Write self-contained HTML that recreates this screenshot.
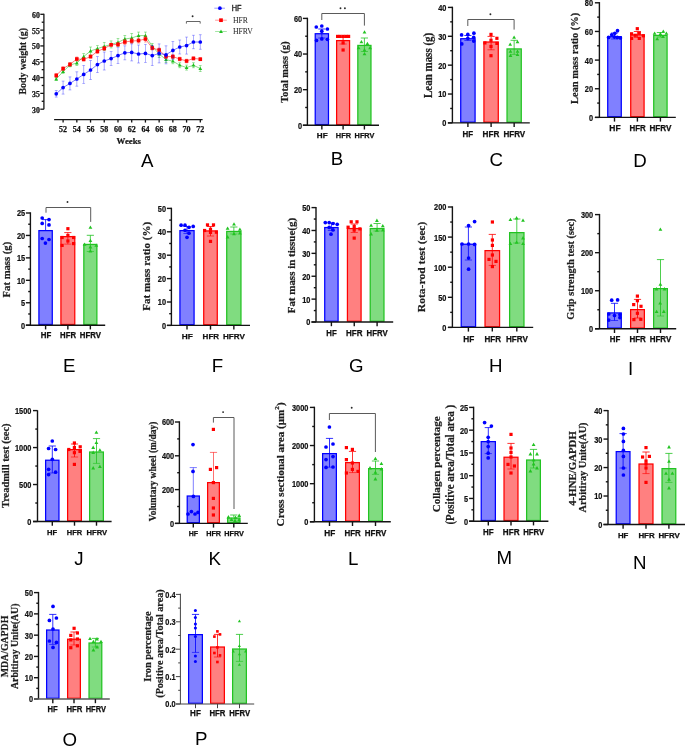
<!DOCTYPE html>
<html><head><meta charset="utf-8"><style>
html,body{margin:0;padding:0;background:#fff;}
body{width:685px;height:747px;overflow:hidden;}
svg{display:block;will-change:transform;}
</style></head><body>
<svg width="685" height="747" viewBox="0 0 685 747" shape-rendering="auto">
<rect width="685" height="747" fill="#fff"/>
<line x1="43.90" y1="13.70" x2="43.90" y2="109.20" stroke="#141414" stroke-width="1.3" />
<line x1="40.30" y1="109.20" x2="43.90" y2="109.20" stroke="#141414" stroke-width="1.3" />
<text x="39.80" y="112.60" font-family="Liberation Serif" font-size="8.0" font-weight="bold" text-anchor="end" fill="#111" stroke="#111" stroke-width="0.25" textLength="7.8" lengthAdjust="spacingAndGlyphs" >30</text>
<line x1="40.30" y1="93.38" x2="43.90" y2="93.38" stroke="#141414" stroke-width="1.3" />
<text x="39.80" y="96.78" font-family="Liberation Serif" font-size="8.0" font-weight="bold" text-anchor="end" fill="#111" stroke="#111" stroke-width="0.25" textLength="7.8" lengthAdjust="spacingAndGlyphs" >35</text>
<line x1="40.30" y1="77.57" x2="43.90" y2="77.57" stroke="#141414" stroke-width="1.3" />
<text x="39.80" y="80.97" font-family="Liberation Serif" font-size="8.0" font-weight="bold" text-anchor="end" fill="#111" stroke="#111" stroke-width="0.25" textLength="7.8" lengthAdjust="spacingAndGlyphs" >40</text>
<line x1="40.30" y1="61.75" x2="43.90" y2="61.75" stroke="#141414" stroke-width="1.3" />
<text x="39.80" y="65.15" font-family="Liberation Serif" font-size="8.0" font-weight="bold" text-anchor="end" fill="#111" stroke="#111" stroke-width="0.25" textLength="7.8" lengthAdjust="spacingAndGlyphs" >45</text>
<line x1="40.30" y1="45.93" x2="43.90" y2="45.93" stroke="#141414" stroke-width="1.3" />
<text x="39.80" y="49.33" font-family="Liberation Serif" font-size="8.0" font-weight="bold" text-anchor="end" fill="#111" stroke="#111" stroke-width="0.25" textLength="7.8" lengthAdjust="spacingAndGlyphs" >50</text>
<line x1="40.30" y1="30.12" x2="43.90" y2="30.12" stroke="#141414" stroke-width="1.3" />
<text x="39.80" y="33.52" font-family="Liberation Serif" font-size="8.0" font-weight="bold" text-anchor="end" fill="#111" stroke="#111" stroke-width="0.25" textLength="7.8" lengthAdjust="spacingAndGlyphs" >55</text>
<line x1="40.30" y1="14.30" x2="43.90" y2="14.30" stroke="#141414" stroke-width="1.3" />
<text x="39.80" y="17.70" font-family="Liberation Serif" font-size="8.0" font-weight="bold" text-anchor="end" fill="#111" stroke="#111" stroke-width="0.25" textLength="7.8" lengthAdjust="spacingAndGlyphs" >60</text>
<line x1="41.70" y1="101.29" x2="43.90" y2="101.29" stroke="#141414" stroke-width="1.3" />
<line x1="41.70" y1="85.47" x2="43.90" y2="85.47" stroke="#141414" stroke-width="1.3" />
<line x1="41.70" y1="69.66" x2="43.90" y2="69.66" stroke="#141414" stroke-width="1.3" />
<line x1="41.70" y1="53.84" x2="43.90" y2="53.84" stroke="#141414" stroke-width="1.3" />
<line x1="41.70" y1="38.03" x2="43.90" y2="38.03" stroke="#141414" stroke-width="1.3" />
<line x1="41.70" y1="22.21" x2="43.90" y2="22.21" stroke="#141414" stroke-width="1.3" />
<line x1="54.10" y1="119.60" x2="202.60" y2="119.60" stroke="#141414" stroke-width="1.3" />
<line x1="63.10" y1="119.60" x2="63.10" y2="122.60" stroke="#141414" stroke-width="1.3" />
<text x="63.10" y="131.80" font-family="Liberation Serif" font-size="8.0" font-weight="bold" text-anchor="middle" fill="#111" stroke="#111" stroke-width="0.25" textLength="8.0" lengthAdjust="spacingAndGlyphs" >52</text>
<line x1="76.82" y1="119.60" x2="76.82" y2="122.60" stroke="#141414" stroke-width="1.3" />
<text x="76.82" y="131.80" font-family="Liberation Serif" font-size="8.0" font-weight="bold" text-anchor="middle" fill="#111" stroke="#111" stroke-width="0.25" textLength="8.0" lengthAdjust="spacingAndGlyphs" >54</text>
<line x1="90.54" y1="119.60" x2="90.54" y2="122.60" stroke="#141414" stroke-width="1.3" />
<text x="90.54" y="131.80" font-family="Liberation Serif" font-size="8.0" font-weight="bold" text-anchor="middle" fill="#111" stroke="#111" stroke-width="0.25" textLength="8.0" lengthAdjust="spacingAndGlyphs" >56</text>
<line x1="104.26" y1="119.60" x2="104.26" y2="122.60" stroke="#141414" stroke-width="1.3" />
<text x="104.26" y="131.80" font-family="Liberation Serif" font-size="8.0" font-weight="bold" text-anchor="middle" fill="#111" stroke="#111" stroke-width="0.25" textLength="8.0" lengthAdjust="spacingAndGlyphs" >58</text>
<line x1="117.98" y1="119.60" x2="117.98" y2="122.60" stroke="#141414" stroke-width="1.3" />
<text x="117.98" y="131.80" font-family="Liberation Serif" font-size="8.0" font-weight="bold" text-anchor="middle" fill="#111" stroke="#111" stroke-width="0.25" textLength="8.0" lengthAdjust="spacingAndGlyphs" >60</text>
<line x1="131.70" y1="119.60" x2="131.70" y2="122.60" stroke="#141414" stroke-width="1.3" />
<text x="131.70" y="131.80" font-family="Liberation Serif" font-size="8.0" font-weight="bold" text-anchor="middle" fill="#111" stroke="#111" stroke-width="0.25" textLength="8.0" lengthAdjust="spacingAndGlyphs" >62</text>
<line x1="145.42" y1="119.60" x2="145.42" y2="122.60" stroke="#141414" stroke-width="1.3" />
<text x="145.42" y="131.80" font-family="Liberation Serif" font-size="8.0" font-weight="bold" text-anchor="middle" fill="#111" stroke="#111" stroke-width="0.25" textLength="8.0" lengthAdjust="spacingAndGlyphs" >64</text>
<line x1="159.14" y1="119.60" x2="159.14" y2="122.60" stroke="#141414" stroke-width="1.3" />
<text x="159.14" y="131.80" font-family="Liberation Serif" font-size="8.0" font-weight="bold" text-anchor="middle" fill="#111" stroke="#111" stroke-width="0.25" textLength="8.0" lengthAdjust="spacingAndGlyphs" >66</text>
<line x1="172.86" y1="119.60" x2="172.86" y2="122.60" stroke="#141414" stroke-width="1.3" />
<text x="172.86" y="131.80" font-family="Liberation Serif" font-size="8.0" font-weight="bold" text-anchor="middle" fill="#111" stroke="#111" stroke-width="0.25" textLength="8.0" lengthAdjust="spacingAndGlyphs" >68</text>
<line x1="186.58" y1="119.60" x2="186.58" y2="122.60" stroke="#141414" stroke-width="1.3" />
<text x="186.58" y="131.80" font-family="Liberation Serif" font-size="8.0" font-weight="bold" text-anchor="middle" fill="#111" stroke="#111" stroke-width="0.25" textLength="8.0" lengthAdjust="spacingAndGlyphs" >70</text>
<line x1="200.30" y1="119.60" x2="200.30" y2="122.60" stroke="#141414" stroke-width="1.3" />
<text x="200.30" y="131.80" font-family="Liberation Serif" font-size="8.0" font-weight="bold" text-anchor="middle" fill="#111" stroke="#111" stroke-width="0.25" textLength="8.0" lengthAdjust="spacingAndGlyphs" >72</text>
<text x="128.80" y="144.30" font-family="Liberation Serif" font-size="8.6" font-weight="bold" text-anchor="middle" fill="#111" stroke="#111" stroke-width="0.2" textLength="24.4" lengthAdjust="spacingAndGlyphs" >Weeks</text>
<line x1="56.24" y1="77.50" x2="56.24" y2="80.50" stroke="#1fbf1f" stroke-width="0.75" opacity="0.6"/>
<line x1="54.84" y1="77.50" x2="57.64" y2="77.50" stroke="#1fbf1f" stroke-width="0.7" opacity="0.6"/>
<line x1="54.84" y1="80.50" x2="57.64" y2="80.50" stroke="#1fbf1f" stroke-width="0.7" opacity="0.6"/>
<line x1="63.10" y1="69.80" x2="63.10" y2="73.40" stroke="#1fbf1f" stroke-width="0.75" opacity="0.6"/>
<line x1="61.70" y1="69.80" x2="64.50" y2="69.80" stroke="#1fbf1f" stroke-width="0.7" opacity="0.6"/>
<line x1="61.70" y1="73.40" x2="64.50" y2="73.40" stroke="#1fbf1f" stroke-width="0.7" opacity="0.6"/>
<line x1="69.96" y1="63.20" x2="69.96" y2="66.80" stroke="#1fbf1f" stroke-width="0.75" opacity="0.6"/>
<line x1="68.56" y1="63.20" x2="71.36" y2="63.20" stroke="#1fbf1f" stroke-width="0.7" opacity="0.6"/>
<line x1="68.56" y1="66.80" x2="71.36" y2="66.80" stroke="#1fbf1f" stroke-width="0.7" opacity="0.6"/>
<line x1="76.82" y1="60.50" x2="76.82" y2="65.50" stroke="#1fbf1f" stroke-width="0.75" opacity="0.6"/>
<line x1="75.42" y1="60.50" x2="78.22" y2="60.50" stroke="#1fbf1f" stroke-width="0.7" opacity="0.6"/>
<line x1="75.42" y1="65.50" x2="78.22" y2="65.50" stroke="#1fbf1f" stroke-width="0.7" opacity="0.6"/>
<line x1="83.68" y1="53.60" x2="83.68" y2="59.60" stroke="#1fbf1f" stroke-width="0.75" opacity="0.6"/>
<line x1="82.28" y1="53.60" x2="85.08" y2="53.60" stroke="#1fbf1f" stroke-width="0.7" opacity="0.6"/>
<line x1="82.28" y1="59.60" x2="85.08" y2="59.60" stroke="#1fbf1f" stroke-width="0.7" opacity="0.6"/>
<line x1="90.54" y1="47.00" x2="90.54" y2="55.00" stroke="#1fbf1f" stroke-width="0.75" opacity="0.6"/>
<line x1="89.14" y1="47.00" x2="91.94" y2="47.00" stroke="#1fbf1f" stroke-width="0.7" opacity="0.6"/>
<line x1="89.14" y1="55.00" x2="91.94" y2="55.00" stroke="#1fbf1f" stroke-width="0.7" opacity="0.6"/>
<line x1="97.40" y1="45.60" x2="97.40" y2="51.60" stroke="#1fbf1f" stroke-width="0.75" opacity="0.6"/>
<line x1="96.00" y1="45.60" x2="98.80" y2="45.60" stroke="#1fbf1f" stroke-width="0.7" opacity="0.6"/>
<line x1="96.00" y1="51.60" x2="98.80" y2="51.60" stroke="#1fbf1f" stroke-width="0.7" opacity="0.6"/>
<line x1="104.26" y1="42.40" x2="104.26" y2="50.40" stroke="#1fbf1f" stroke-width="0.75" opacity="0.6"/>
<line x1="102.86" y1="42.40" x2="105.66" y2="42.40" stroke="#1fbf1f" stroke-width="0.7" opacity="0.6"/>
<line x1="102.86" y1="50.40" x2="105.66" y2="50.40" stroke="#1fbf1f" stroke-width="0.7" opacity="0.6"/>
<line x1="111.12" y1="40.90" x2="111.12" y2="47.90" stroke="#1fbf1f" stroke-width="0.75" opacity="0.6"/>
<line x1="109.72" y1="40.90" x2="112.52" y2="40.90" stroke="#1fbf1f" stroke-width="0.7" opacity="0.6"/>
<line x1="109.72" y1="47.90" x2="112.52" y2="47.90" stroke="#1fbf1f" stroke-width="0.7" opacity="0.6"/>
<line x1="117.98" y1="38.40" x2="117.98" y2="46.40" stroke="#1fbf1f" stroke-width="0.75" opacity="0.6"/>
<line x1="116.58" y1="38.40" x2="119.38" y2="38.40" stroke="#1fbf1f" stroke-width="0.7" opacity="0.6"/>
<line x1="116.58" y1="46.40" x2="119.38" y2="46.40" stroke="#1fbf1f" stroke-width="0.7" opacity="0.6"/>
<line x1="124.84" y1="35.50" x2="124.84" y2="42.50" stroke="#1fbf1f" stroke-width="0.75" opacity="0.6"/>
<line x1="123.44" y1="35.50" x2="126.24" y2="35.50" stroke="#1fbf1f" stroke-width="0.7" opacity="0.6"/>
<line x1="123.44" y1="42.50" x2="126.24" y2="42.50" stroke="#1fbf1f" stroke-width="0.7" opacity="0.6"/>
<line x1="131.70" y1="33.50" x2="131.70" y2="42.50" stroke="#1fbf1f" stroke-width="0.75" opacity="0.6"/>
<line x1="130.30" y1="33.50" x2="133.10" y2="33.50" stroke="#1fbf1f" stroke-width="0.7" opacity="0.6"/>
<line x1="130.30" y1="42.50" x2="133.10" y2="42.50" stroke="#1fbf1f" stroke-width="0.7" opacity="0.6"/>
<line x1="138.56" y1="32.10" x2="138.56" y2="39.10" stroke="#1fbf1f" stroke-width="0.75" opacity="0.6"/>
<line x1="137.16" y1="32.10" x2="139.96" y2="32.10" stroke="#1fbf1f" stroke-width="0.7" opacity="0.6"/>
<line x1="137.16" y1="39.10" x2="139.96" y2="39.10" stroke="#1fbf1f" stroke-width="0.7" opacity="0.6"/>
<line x1="145.42" y1="32.10" x2="145.42" y2="39.10" stroke="#1fbf1f" stroke-width="0.75" opacity="0.6"/>
<line x1="144.02" y1="32.10" x2="146.82" y2="32.10" stroke="#1fbf1f" stroke-width="0.7" opacity="0.6"/>
<line x1="144.02" y1="39.10" x2="146.82" y2="39.10" stroke="#1fbf1f" stroke-width="0.7" opacity="0.6"/>
<line x1="152.28" y1="43.40" x2="152.28" y2="49.40" stroke="#1fbf1f" stroke-width="0.75" opacity="0.6"/>
<line x1="150.88" y1="43.40" x2="153.68" y2="43.40" stroke="#1fbf1f" stroke-width="0.7" opacity="0.6"/>
<line x1="150.88" y1="49.40" x2="153.68" y2="49.40" stroke="#1fbf1f" stroke-width="0.7" opacity="0.6"/>
<line x1="159.14" y1="50.50" x2="159.14" y2="57.50" stroke="#1fbf1f" stroke-width="0.75" opacity="0.6"/>
<line x1="157.74" y1="50.50" x2="160.54" y2="50.50" stroke="#1fbf1f" stroke-width="0.7" opacity="0.6"/>
<line x1="157.74" y1="57.50" x2="160.54" y2="57.50" stroke="#1fbf1f" stroke-width="0.7" opacity="0.6"/>
<line x1="166.00" y1="56.60" x2="166.00" y2="62.60" stroke="#1fbf1f" stroke-width="0.75" opacity="0.6"/>
<line x1="164.60" y1="56.60" x2="167.40" y2="56.60" stroke="#1fbf1f" stroke-width="0.7" opacity="0.6"/>
<line x1="164.60" y1="62.60" x2="167.40" y2="62.60" stroke="#1fbf1f" stroke-width="0.7" opacity="0.6"/>
<line x1="172.86" y1="58.70" x2="172.86" y2="63.70" stroke="#1fbf1f" stroke-width="0.75" opacity="0.6"/>
<line x1="171.46" y1="58.70" x2="174.26" y2="58.70" stroke="#1fbf1f" stroke-width="0.7" opacity="0.6"/>
<line x1="171.46" y1="63.70" x2="174.26" y2="63.70" stroke="#1fbf1f" stroke-width="0.7" opacity="0.6"/>
<line x1="179.72" y1="62.70" x2="179.72" y2="67.70" stroke="#1fbf1f" stroke-width="0.75" opacity="0.6"/>
<line x1="178.32" y1="62.70" x2="181.12" y2="62.70" stroke="#1fbf1f" stroke-width="0.7" opacity="0.6"/>
<line x1="178.32" y1="67.70" x2="181.12" y2="67.70" stroke="#1fbf1f" stroke-width="0.7" opacity="0.6"/>
<line x1="186.58" y1="65.10" x2="186.58" y2="70.10" stroke="#1fbf1f" stroke-width="0.75" opacity="0.6"/>
<line x1="185.18" y1="65.10" x2="187.98" y2="65.10" stroke="#1fbf1f" stroke-width="0.7" opacity="0.6"/>
<line x1="185.18" y1="70.10" x2="187.98" y2="70.10" stroke="#1fbf1f" stroke-width="0.7" opacity="0.6"/>
<line x1="193.44" y1="62.70" x2="193.44" y2="67.70" stroke="#1fbf1f" stroke-width="0.75" opacity="0.6"/>
<line x1="192.04" y1="62.70" x2="194.84" y2="62.70" stroke="#1fbf1f" stroke-width="0.7" opacity="0.6"/>
<line x1="192.04" y1="67.70" x2="194.84" y2="67.70" stroke="#1fbf1f" stroke-width="0.7" opacity="0.6"/>
<line x1="200.30" y1="65.60" x2="200.30" y2="71.60" stroke="#1fbf1f" stroke-width="0.75" opacity="0.6"/>
<line x1="198.90" y1="65.60" x2="201.70" y2="65.60" stroke="#1fbf1f" stroke-width="0.7" opacity="0.6"/>
<line x1="198.90" y1="71.60" x2="201.70" y2="71.60" stroke="#1fbf1f" stroke-width="0.7" opacity="0.6"/>
<polyline points="56.24,79.00 63.10,71.60 69.96,65.00 76.82,63.00 83.68,56.60 90.54,51.00 97.40,48.60 104.26,46.40 111.12,44.40 117.98,42.40 124.84,39.00 131.70,38.00 138.56,35.60 145.42,35.60 152.28,46.40 159.14,54.00 166.00,59.60 172.86,61.20 179.72,65.20 186.58,67.60 193.44,65.20 200.30,68.60" fill="none" stroke="#1fbf1f" stroke-width="0.7" opacity="0.75"/>
<path d="M56.24,77.10 L58.14,80.42 L54.34,80.42 Z" fill="#1fbf1f"/>
<path d="M63.10,69.70 L65.00,73.02 L61.20,73.02 Z" fill="#1fbf1f"/>
<path d="M69.96,63.10 L71.86,66.42 L68.06,66.42 Z" fill="#1fbf1f"/>
<path d="M76.82,61.10 L78.72,64.42 L74.92,64.42 Z" fill="#1fbf1f"/>
<path d="M83.68,54.70 L85.58,58.02 L81.78,58.02 Z" fill="#1fbf1f"/>
<path d="M90.54,49.10 L92.44,52.42 L88.64,52.42 Z" fill="#1fbf1f"/>
<path d="M97.40,46.70 L99.30,50.02 L95.50,50.02 Z" fill="#1fbf1f"/>
<path d="M104.26,44.50 L106.16,47.82 L102.36,47.82 Z" fill="#1fbf1f"/>
<path d="M111.12,42.50 L113.02,45.82 L109.22,45.82 Z" fill="#1fbf1f"/>
<path d="M117.98,40.50 L119.88,43.82 L116.08,43.82 Z" fill="#1fbf1f"/>
<path d="M124.84,37.10 L126.74,40.42 L122.94,40.42 Z" fill="#1fbf1f"/>
<path d="M131.70,36.10 L133.60,39.42 L129.80,39.42 Z" fill="#1fbf1f"/>
<path d="M138.56,33.70 L140.46,37.02 L136.66,37.02 Z" fill="#1fbf1f"/>
<path d="M145.42,33.70 L147.32,37.02 L143.52,37.02 Z" fill="#1fbf1f"/>
<path d="M152.28,44.50 L154.18,47.82 L150.38,47.82 Z" fill="#1fbf1f"/>
<path d="M159.14,52.10 L161.04,55.42 L157.24,55.42 Z" fill="#1fbf1f"/>
<path d="M166.00,57.70 L167.90,61.02 L164.10,61.02 Z" fill="#1fbf1f"/>
<path d="M172.86,59.30 L174.76,62.62 L170.96,62.62 Z" fill="#1fbf1f"/>
<path d="M179.72,63.30 L181.62,66.62 L177.82,66.62 Z" fill="#1fbf1f"/>
<path d="M186.58,65.70 L188.48,69.02 L184.68,69.02 Z" fill="#1fbf1f"/>
<path d="M193.44,63.30 L195.34,66.62 L191.54,66.62 Z" fill="#1fbf1f"/>
<path d="M200.30,66.70 L202.20,70.02 L198.40,70.02 Z" fill="#1fbf1f"/>
<line x1="56.24" y1="73.40" x2="56.24" y2="77.40" stroke="#ff0000" stroke-width="0.75" opacity="0.5"/>
<line x1="54.84" y1="73.40" x2="57.64" y2="73.40" stroke="#ff0000" stroke-width="0.7" opacity="0.5"/>
<line x1="54.84" y1="77.40" x2="57.64" y2="77.40" stroke="#ff0000" stroke-width="0.7" opacity="0.5"/>
<line x1="63.10" y1="66.80" x2="63.10" y2="70.40" stroke="#ff0000" stroke-width="0.75" opacity="0.5"/>
<line x1="61.70" y1="66.80" x2="64.50" y2="66.80" stroke="#ff0000" stroke-width="0.7" opacity="0.5"/>
<line x1="61.70" y1="70.40" x2="64.50" y2="70.40" stroke="#ff0000" stroke-width="0.7" opacity="0.5"/>
<line x1="69.96" y1="62.60" x2="69.96" y2="66.20" stroke="#ff0000" stroke-width="0.75" opacity="0.5"/>
<line x1="68.56" y1="62.60" x2="71.36" y2="62.60" stroke="#ff0000" stroke-width="0.7" opacity="0.5"/>
<line x1="68.56" y1="66.20" x2="71.36" y2="66.20" stroke="#ff0000" stroke-width="0.7" opacity="0.5"/>
<line x1="76.82" y1="57.00" x2="76.82" y2="61.00" stroke="#ff0000" stroke-width="0.75" opacity="0.5"/>
<line x1="75.42" y1="57.00" x2="78.22" y2="57.00" stroke="#ff0000" stroke-width="0.7" opacity="0.5"/>
<line x1="75.42" y1="61.00" x2="78.22" y2="61.00" stroke="#ff0000" stroke-width="0.7" opacity="0.5"/>
<line x1="83.68" y1="57.90" x2="83.68" y2="60.90" stroke="#ff0000" stroke-width="0.75" opacity="0.5"/>
<line x1="82.28" y1="57.90" x2="85.08" y2="57.90" stroke="#ff0000" stroke-width="0.7" opacity="0.5"/>
<line x1="82.28" y1="60.90" x2="85.08" y2="60.90" stroke="#ff0000" stroke-width="0.7" opacity="0.5"/>
<line x1="90.54" y1="55.10" x2="90.54" y2="58.10" stroke="#ff0000" stroke-width="0.75" opacity="0.5"/>
<line x1="89.14" y1="55.10" x2="91.94" y2="55.10" stroke="#ff0000" stroke-width="0.7" opacity="0.5"/>
<line x1="89.14" y1="58.10" x2="91.94" y2="58.10" stroke="#ff0000" stroke-width="0.7" opacity="0.5"/>
<line x1="97.40" y1="49.40" x2="97.40" y2="53.40" stroke="#ff0000" stroke-width="0.75" opacity="0.5"/>
<line x1="96.00" y1="49.40" x2="98.80" y2="49.40" stroke="#ff0000" stroke-width="0.7" opacity="0.5"/>
<line x1="96.00" y1="53.40" x2="98.80" y2="53.40" stroke="#ff0000" stroke-width="0.7" opacity="0.5"/>
<line x1="104.26" y1="46.40" x2="104.26" y2="50.40" stroke="#ff0000" stroke-width="0.75" opacity="0.5"/>
<line x1="102.86" y1="46.40" x2="105.66" y2="46.40" stroke="#ff0000" stroke-width="0.7" opacity="0.5"/>
<line x1="102.86" y1="50.40" x2="105.66" y2="50.40" stroke="#ff0000" stroke-width="0.7" opacity="0.5"/>
<line x1="111.12" y1="43.30" x2="111.12" y2="46.30" stroke="#ff0000" stroke-width="0.75" opacity="0.5"/>
<line x1="109.72" y1="43.30" x2="112.52" y2="43.30" stroke="#ff0000" stroke-width="0.7" opacity="0.5"/>
<line x1="109.72" y1="46.30" x2="112.52" y2="46.30" stroke="#ff0000" stroke-width="0.7" opacity="0.5"/>
<line x1="117.98" y1="42.40" x2="117.98" y2="46.40" stroke="#ff0000" stroke-width="0.75" opacity="0.5"/>
<line x1="116.58" y1="42.40" x2="119.38" y2="42.40" stroke="#ff0000" stroke-width="0.7" opacity="0.5"/>
<line x1="116.58" y1="46.40" x2="119.38" y2="46.40" stroke="#ff0000" stroke-width="0.7" opacity="0.5"/>
<line x1="124.84" y1="39.50" x2="124.84" y2="44.50" stroke="#ff0000" stroke-width="0.75" opacity="0.5"/>
<line x1="123.44" y1="39.50" x2="126.24" y2="39.50" stroke="#ff0000" stroke-width="0.7" opacity="0.5"/>
<line x1="123.44" y1="44.50" x2="126.24" y2="44.50" stroke="#ff0000" stroke-width="0.7" opacity="0.5"/>
<line x1="131.70" y1="38.50" x2="131.70" y2="43.50" stroke="#ff0000" stroke-width="0.75" opacity="0.5"/>
<line x1="130.30" y1="38.50" x2="133.10" y2="38.50" stroke="#ff0000" stroke-width="0.7" opacity="0.5"/>
<line x1="130.30" y1="43.50" x2="133.10" y2="43.50" stroke="#ff0000" stroke-width="0.7" opacity="0.5"/>
<line x1="138.56" y1="38.10" x2="138.56" y2="43.10" stroke="#ff0000" stroke-width="0.75" opacity="0.5"/>
<line x1="137.16" y1="38.10" x2="139.96" y2="38.10" stroke="#ff0000" stroke-width="0.7" opacity="0.5"/>
<line x1="137.16" y1="43.10" x2="139.96" y2="43.10" stroke="#ff0000" stroke-width="0.7" opacity="0.5"/>
<line x1="145.42" y1="36.00" x2="145.42" y2="42.00" stroke="#ff0000" stroke-width="0.75" opacity="0.5"/>
<line x1="144.02" y1="36.00" x2="146.82" y2="36.00" stroke="#ff0000" stroke-width="0.7" opacity="0.5"/>
<line x1="144.02" y1="42.00" x2="146.82" y2="42.00" stroke="#ff0000" stroke-width="0.7" opacity="0.5"/>
<line x1="152.28" y1="46.00" x2="152.28" y2="50.00" stroke="#ff0000" stroke-width="0.75" opacity="0.5"/>
<line x1="150.88" y1="46.00" x2="153.68" y2="46.00" stroke="#ff0000" stroke-width="0.7" opacity="0.5"/>
<line x1="150.88" y1="50.00" x2="153.68" y2="50.00" stroke="#ff0000" stroke-width="0.7" opacity="0.5"/>
<line x1="159.14" y1="48.00" x2="159.14" y2="52.00" stroke="#ff0000" stroke-width="0.75" opacity="0.5"/>
<line x1="157.74" y1="48.00" x2="160.54" y2="48.00" stroke="#ff0000" stroke-width="0.7" opacity="0.5"/>
<line x1="157.74" y1="52.00" x2="160.54" y2="52.00" stroke="#ff0000" stroke-width="0.7" opacity="0.5"/>
<line x1="166.00" y1="54.60" x2="166.00" y2="58.60" stroke="#ff0000" stroke-width="0.75" opacity="0.5"/>
<line x1="164.60" y1="54.60" x2="167.40" y2="54.60" stroke="#ff0000" stroke-width="0.7" opacity="0.5"/>
<line x1="164.60" y1="58.60" x2="167.40" y2="58.60" stroke="#ff0000" stroke-width="0.7" opacity="0.5"/>
<line x1="172.86" y1="54.60" x2="172.86" y2="58.60" stroke="#ff0000" stroke-width="0.75" opacity="0.5"/>
<line x1="171.46" y1="54.60" x2="174.26" y2="54.60" stroke="#ff0000" stroke-width="0.7" opacity="0.5"/>
<line x1="171.46" y1="58.60" x2="174.26" y2="58.60" stroke="#ff0000" stroke-width="0.7" opacity="0.5"/>
<line x1="179.72" y1="57.20" x2="179.72" y2="60.80" stroke="#ff0000" stroke-width="0.75" opacity="0.5"/>
<line x1="178.32" y1="57.20" x2="181.12" y2="57.20" stroke="#ff0000" stroke-width="0.7" opacity="0.5"/>
<line x1="178.32" y1="60.80" x2="181.12" y2="60.80" stroke="#ff0000" stroke-width="0.7" opacity="0.5"/>
<line x1="186.58" y1="59.20" x2="186.58" y2="62.80" stroke="#ff0000" stroke-width="0.75" opacity="0.5"/>
<line x1="185.18" y1="59.20" x2="187.98" y2="59.20" stroke="#ff0000" stroke-width="0.7" opacity="0.5"/>
<line x1="185.18" y1="62.80" x2="187.98" y2="62.80" stroke="#ff0000" stroke-width="0.7" opacity="0.5"/>
<line x1="193.44" y1="56.90" x2="193.44" y2="59.90" stroke="#ff0000" stroke-width="0.75" opacity="0.5"/>
<line x1="192.04" y1="56.90" x2="194.84" y2="56.90" stroke="#ff0000" stroke-width="0.7" opacity="0.5"/>
<line x1="192.04" y1="59.90" x2="194.84" y2="59.90" stroke="#ff0000" stroke-width="0.7" opacity="0.5"/>
<line x1="200.30" y1="57.70" x2="200.30" y2="60.70" stroke="#ff0000" stroke-width="0.75" opacity="0.5"/>
<line x1="198.90" y1="57.70" x2="201.70" y2="57.70" stroke="#ff0000" stroke-width="0.7" opacity="0.5"/>
<line x1="198.90" y1="60.70" x2="201.70" y2="60.70" stroke="#ff0000" stroke-width="0.7" opacity="0.5"/>
<polyline points="56.24,75.40 63.10,68.60 69.96,64.40 76.82,59.00 83.68,59.40 90.54,56.60 97.40,51.40 104.26,48.40 111.12,44.80 117.98,44.40 124.84,42.00 131.70,41.00 138.56,40.60 145.42,39.00 152.28,48.00 159.14,50.00 166.00,56.60 172.86,56.60 179.72,59.00 186.58,61.00 193.44,58.40 200.30,59.20" fill="none" stroke="#ff0000" stroke-width="0.7" opacity="0.75"/>
<rect x="54.45" y="73.61" width="3.58" height="3.58" fill="#ff0000"/>
<rect x="61.31" y="66.81" width="3.58" height="3.58" fill="#ff0000"/>
<rect x="68.17" y="62.61" width="3.58" height="3.58" fill="#ff0000"/>
<rect x="75.03" y="57.21" width="3.58" height="3.58" fill="#ff0000"/>
<rect x="81.89" y="57.61" width="3.58" height="3.58" fill="#ff0000"/>
<rect x="88.75" y="54.81" width="3.58" height="3.58" fill="#ff0000"/>
<rect x="95.61" y="49.61" width="3.58" height="3.58" fill="#ff0000"/>
<rect x="102.47" y="46.61" width="3.58" height="3.58" fill="#ff0000"/>
<rect x="109.33" y="43.01" width="3.58" height="3.58" fill="#ff0000"/>
<rect x="116.19" y="42.61" width="3.58" height="3.58" fill="#ff0000"/>
<rect x="123.05" y="40.21" width="3.58" height="3.58" fill="#ff0000"/>
<rect x="129.91" y="39.21" width="3.58" height="3.58" fill="#ff0000"/>
<rect x="136.77" y="38.81" width="3.58" height="3.58" fill="#ff0000"/>
<rect x="143.63" y="37.21" width="3.58" height="3.58" fill="#ff0000"/>
<rect x="150.49" y="46.21" width="3.58" height="3.58" fill="#ff0000"/>
<rect x="157.35" y="48.21" width="3.58" height="3.58" fill="#ff0000"/>
<rect x="164.21" y="54.81" width="3.58" height="3.58" fill="#ff0000"/>
<rect x="171.07" y="54.81" width="3.58" height="3.58" fill="#ff0000"/>
<rect x="177.93" y="57.21" width="3.58" height="3.58" fill="#ff0000"/>
<rect x="184.79" y="59.21" width="3.58" height="3.58" fill="#ff0000"/>
<rect x="191.65" y="56.61" width="3.58" height="3.58" fill="#ff0000"/>
<rect x="198.51" y="57.41" width="3.58" height="3.58" fill="#ff0000"/>
<line x1="56.24" y1="90.50" x2="56.24" y2="97.10" stroke="#0000ff" stroke-width="0.75" opacity="0.45"/>
<line x1="54.84" y1="90.50" x2="57.64" y2="90.50" stroke="#0000ff" stroke-width="0.7" opacity="0.45"/>
<line x1="54.84" y1="97.10" x2="57.64" y2="97.10" stroke="#0000ff" stroke-width="0.7" opacity="0.45"/>
<line x1="63.10" y1="81.10" x2="63.10" y2="94.10" stroke="#0000ff" stroke-width="0.75" opacity="0.45"/>
<line x1="61.70" y1="81.10" x2="64.50" y2="81.10" stroke="#0000ff" stroke-width="0.7" opacity="0.45"/>
<line x1="61.70" y1="94.10" x2="64.50" y2="94.10" stroke="#0000ff" stroke-width="0.7" opacity="0.45"/>
<line x1="69.96" y1="76.90" x2="69.96" y2="89.90" stroke="#0000ff" stroke-width="0.75" opacity="0.45"/>
<line x1="68.56" y1="76.90" x2="71.36" y2="76.90" stroke="#0000ff" stroke-width="0.7" opacity="0.45"/>
<line x1="68.56" y1="89.90" x2="71.36" y2="89.90" stroke="#0000ff" stroke-width="0.7" opacity="0.45"/>
<line x1="76.82" y1="71.80" x2="76.82" y2="86.20" stroke="#0000ff" stroke-width="0.75" opacity="0.45"/>
<line x1="75.42" y1="71.80" x2="78.22" y2="71.80" stroke="#0000ff" stroke-width="0.7" opacity="0.45"/>
<line x1="75.42" y1="86.20" x2="78.22" y2="86.20" stroke="#0000ff" stroke-width="0.7" opacity="0.45"/>
<line x1="83.68" y1="65.40" x2="83.68" y2="83.40" stroke="#0000ff" stroke-width="0.75" opacity="0.45"/>
<line x1="82.28" y1="65.40" x2="85.08" y2="65.40" stroke="#0000ff" stroke-width="0.7" opacity="0.45"/>
<line x1="82.28" y1="83.40" x2="85.08" y2="83.40" stroke="#0000ff" stroke-width="0.7" opacity="0.45"/>
<line x1="90.54" y1="60.50" x2="90.54" y2="79.50" stroke="#0000ff" stroke-width="0.75" opacity="0.45"/>
<line x1="89.14" y1="60.50" x2="91.94" y2="60.50" stroke="#0000ff" stroke-width="0.7" opacity="0.45"/>
<line x1="89.14" y1="79.50" x2="91.94" y2="79.50" stroke="#0000ff" stroke-width="0.7" opacity="0.45"/>
<line x1="97.40" y1="56.60" x2="97.40" y2="72.60" stroke="#0000ff" stroke-width="0.75" opacity="0.45"/>
<line x1="96.00" y1="56.60" x2="98.80" y2="56.60" stroke="#0000ff" stroke-width="0.7" opacity="0.45"/>
<line x1="96.00" y1="72.60" x2="98.80" y2="72.60" stroke="#0000ff" stroke-width="0.7" opacity="0.45"/>
<line x1="104.26" y1="52.00" x2="104.26" y2="70.00" stroke="#0000ff" stroke-width="0.75" opacity="0.45"/>
<line x1="102.86" y1="52.00" x2="105.66" y2="52.00" stroke="#0000ff" stroke-width="0.7" opacity="0.45"/>
<line x1="102.86" y1="70.00" x2="105.66" y2="70.00" stroke="#0000ff" stroke-width="0.7" opacity="0.45"/>
<line x1="111.12" y1="51.60" x2="111.12" y2="65.60" stroke="#0000ff" stroke-width="0.75" opacity="0.45"/>
<line x1="109.72" y1="51.60" x2="112.52" y2="51.60" stroke="#0000ff" stroke-width="0.7" opacity="0.45"/>
<line x1="109.72" y1="65.60" x2="112.52" y2="65.60" stroke="#0000ff" stroke-width="0.7" opacity="0.45"/>
<line x1="117.98" y1="47.60" x2="117.98" y2="63.60" stroke="#0000ff" stroke-width="0.75" opacity="0.45"/>
<line x1="116.58" y1="47.60" x2="119.38" y2="47.60" stroke="#0000ff" stroke-width="0.7" opacity="0.45"/>
<line x1="116.58" y1="63.60" x2="119.38" y2="63.60" stroke="#0000ff" stroke-width="0.7" opacity="0.45"/>
<line x1="124.84" y1="45.80" x2="124.84" y2="59.80" stroke="#0000ff" stroke-width="0.75" opacity="0.45"/>
<line x1="123.44" y1="45.80" x2="126.24" y2="45.80" stroke="#0000ff" stroke-width="0.7" opacity="0.45"/>
<line x1="123.44" y1="59.80" x2="126.24" y2="59.80" stroke="#0000ff" stroke-width="0.7" opacity="0.45"/>
<line x1="131.70" y1="43.90" x2="131.70" y2="60.90" stroke="#0000ff" stroke-width="0.75" opacity="0.45"/>
<line x1="130.30" y1="43.90" x2="133.10" y2="43.90" stroke="#0000ff" stroke-width="0.7" opacity="0.45"/>
<line x1="130.30" y1="60.90" x2="133.10" y2="60.90" stroke="#0000ff" stroke-width="0.7" opacity="0.45"/>
<line x1="138.56" y1="45.00" x2="138.56" y2="63.00" stroke="#0000ff" stroke-width="0.75" opacity="0.45"/>
<line x1="137.16" y1="45.00" x2="139.96" y2="45.00" stroke="#0000ff" stroke-width="0.7" opacity="0.45"/>
<line x1="137.16" y1="63.00" x2="139.96" y2="63.00" stroke="#0000ff" stroke-width="0.7" opacity="0.45"/>
<line x1="145.42" y1="44.40" x2="145.42" y2="62.40" stroke="#0000ff" stroke-width="0.75" opacity="0.45"/>
<line x1="144.02" y1="44.40" x2="146.82" y2="44.40" stroke="#0000ff" stroke-width="0.7" opacity="0.45"/>
<line x1="144.02" y1="62.40" x2="146.82" y2="62.40" stroke="#0000ff" stroke-width="0.7" opacity="0.45"/>
<line x1="152.28" y1="45.60" x2="152.28" y2="65.60" stroke="#0000ff" stroke-width="0.75" opacity="0.45"/>
<line x1="150.88" y1="45.60" x2="153.68" y2="45.60" stroke="#0000ff" stroke-width="0.7" opacity="0.45"/>
<line x1="150.88" y1="65.60" x2="153.68" y2="65.60" stroke="#0000ff" stroke-width="0.7" opacity="0.45"/>
<line x1="159.14" y1="43.90" x2="159.14" y2="62.90" stroke="#0000ff" stroke-width="0.75" opacity="0.45"/>
<line x1="157.74" y1="43.90" x2="160.54" y2="43.90" stroke="#0000ff" stroke-width="0.7" opacity="0.45"/>
<line x1="157.74" y1="62.90" x2="160.54" y2="62.90" stroke="#0000ff" stroke-width="0.7" opacity="0.45"/>
<line x1="166.00" y1="45.80" x2="166.00" y2="63.80" stroke="#0000ff" stroke-width="0.75" opacity="0.45"/>
<line x1="164.60" y1="45.80" x2="167.40" y2="45.80" stroke="#0000ff" stroke-width="0.7" opacity="0.45"/>
<line x1="164.60" y1="63.80" x2="167.40" y2="63.80" stroke="#0000ff" stroke-width="0.7" opacity="0.45"/>
<line x1="172.86" y1="41.40" x2="172.86" y2="59.40" stroke="#0000ff" stroke-width="0.75" opacity="0.45"/>
<line x1="171.46" y1="41.40" x2="174.26" y2="41.40" stroke="#0000ff" stroke-width="0.7" opacity="0.45"/>
<line x1="171.46" y1="59.40" x2="174.26" y2="59.40" stroke="#0000ff" stroke-width="0.7" opacity="0.45"/>
<line x1="179.72" y1="40.00" x2="179.72" y2="54.00" stroke="#0000ff" stroke-width="0.75" opacity="0.45"/>
<line x1="178.32" y1="40.00" x2="181.12" y2="40.00" stroke="#0000ff" stroke-width="0.7" opacity="0.45"/>
<line x1="178.32" y1="54.00" x2="181.12" y2="54.00" stroke="#0000ff" stroke-width="0.7" opacity="0.45"/>
<line x1="186.58" y1="37.10" x2="186.58" y2="54.10" stroke="#0000ff" stroke-width="0.75" opacity="0.45"/>
<line x1="185.18" y1="37.10" x2="187.98" y2="37.10" stroke="#0000ff" stroke-width="0.7" opacity="0.45"/>
<line x1="185.18" y1="54.10" x2="187.98" y2="54.10" stroke="#0000ff" stroke-width="0.7" opacity="0.45"/>
<line x1="193.44" y1="35.30" x2="193.44" y2="48.70" stroke="#0000ff" stroke-width="0.75" opacity="0.45"/>
<line x1="192.04" y1="35.30" x2="194.84" y2="35.30" stroke="#0000ff" stroke-width="0.7" opacity="0.45"/>
<line x1="192.04" y1="48.70" x2="194.84" y2="48.70" stroke="#0000ff" stroke-width="0.7" opacity="0.45"/>
<line x1="200.30" y1="34.70" x2="200.30" y2="49.30" stroke="#0000ff" stroke-width="0.75" opacity="0.45"/>
<line x1="198.90" y1="34.70" x2="201.70" y2="34.70" stroke="#0000ff" stroke-width="0.7" opacity="0.45"/>
<line x1="198.90" y1="49.30" x2="201.70" y2="49.30" stroke="#0000ff" stroke-width="0.7" opacity="0.45"/>
<polyline points="56.24,93.80 63.10,87.60 69.96,83.40 76.82,79.00 83.68,74.40 90.54,70.00 97.40,64.60 104.26,61.00 111.12,58.60 117.98,55.60 124.84,52.80 131.70,52.40 138.56,54.00 145.42,53.40 152.28,55.60 159.14,53.40 166.00,54.80 172.86,50.40 179.72,47.00 186.58,45.60 193.44,42.00 200.30,42.00" fill="none" stroke="#0000ff" stroke-width="0.7" opacity="0.75"/>
<circle cx="56.24" cy="93.80" r="1.85" fill="#0000ff"/>
<circle cx="63.10" cy="87.60" r="1.85" fill="#0000ff"/>
<circle cx="69.96" cy="83.40" r="1.85" fill="#0000ff"/>
<circle cx="76.82" cy="79.00" r="1.85" fill="#0000ff"/>
<circle cx="83.68" cy="74.40" r="1.85" fill="#0000ff"/>
<circle cx="90.54" cy="70.00" r="1.85" fill="#0000ff"/>
<circle cx="97.40" cy="64.60" r="1.85" fill="#0000ff"/>
<circle cx="104.26" cy="61.00" r="1.85" fill="#0000ff"/>
<circle cx="111.12" cy="58.60" r="1.85" fill="#0000ff"/>
<circle cx="117.98" cy="55.60" r="1.85" fill="#0000ff"/>
<circle cx="124.84" cy="52.80" r="1.85" fill="#0000ff"/>
<circle cx="131.70" cy="52.40" r="1.85" fill="#0000ff"/>
<circle cx="138.56" cy="54.00" r="1.85" fill="#0000ff"/>
<circle cx="145.42" cy="53.40" r="1.85" fill="#0000ff"/>
<circle cx="152.28" cy="55.60" r="1.85" fill="#0000ff"/>
<circle cx="159.14" cy="53.40" r="1.85" fill="#0000ff"/>
<circle cx="166.00" cy="54.80" r="1.85" fill="#0000ff"/>
<circle cx="172.86" cy="50.40" r="1.85" fill="#0000ff"/>
<circle cx="179.72" cy="47.00" r="1.85" fill="#0000ff"/>
<circle cx="186.58" cy="45.60" r="1.85" fill="#0000ff"/>
<circle cx="193.44" cy="42.00" r="1.85" fill="#0000ff"/>
<circle cx="200.30" cy="42.00" r="1.85" fill="#0000ff"/>
<path d="M186.4,23.6 V21.5 H200.2 V23.6" fill="none" stroke="#555" stroke-width="0.9"/>
<circle cx="192.6" cy="16.3" r="0.95" fill="#2a2a2a"/>
<line x1="214.30" y1="8.20" x2="225.00" y2="8.20" stroke="#0000ff" stroke-width="0.8" opacity="0.5"/>
<circle cx="219.90" cy="8.20" r="1.85" fill="#0000ff"/>
<line x1="215.10" y1="20.20" x2="226.80" y2="20.20" stroke="#ff0000" stroke-width="0.8" opacity="0.5"/>
<rect x="219.16" y="18.36" width="3.68" height="3.68" fill="#ff0000"/>
<line x1="215.10" y1="31.50" x2="226.80" y2="31.50" stroke="#1fbf1f" stroke-width="0.8" opacity="0.5"/>
<path d="M221.00,29.60 L222.90,32.92 L219.10,32.92 Z" fill="#1fbf1f"/>
<text x="231.80" y="11.00" font-family="Liberation Sans" font-size="8.2" font-weight="normal" text-anchor="start" fill="#111" stroke="#111" stroke-width="0.3" textLength="9.8" lengthAdjust="spacingAndGlyphs" >HF</text>
<text x="232.90" y="23.00" font-family="Liberation Serif" font-size="8.6" font-weight="normal" text-anchor="start" fill="#222" textLength="15.1" lengthAdjust="spacingAndGlyphs" >HFR</text>
<text x="232.90" y="34.30" font-family="Liberation Serif" font-size="8.6" font-weight="normal" text-anchor="start" fill="#222" textLength="20.1" lengthAdjust="spacingAndGlyphs" >HFRV</text>
<text x="140.90" y="167.00" font-family="Liberation Sans" font-size="18.7" font-weight="normal" text-anchor="start" fill="#000" >A</text>
<rect x="315.23" y="33.73" width="13.25" height="90.85" fill="#8080ff" stroke="#0000ff" stroke-width="1.25"/>
<rect x="336.62" y="40.62" width="12.95" height="83.95" fill="#ff8080" stroke="#ff0000" stroke-width="1.25"/>
<rect x="357.82" y="45.42" width="13.15" height="79.15" fill="#80dc80" stroke="#22c322" stroke-width="1.25"/>
<line x1="321.85" y1="29.00" x2="321.85" y2="38.00" stroke="#0000ff" stroke-width="1.0" opacity="0.8"/>
<line x1="318.25" y1="29.00" x2="325.45" y2="29.00" stroke="#0000ff" stroke-width="1.0" opacity="0.8"/>
<line x1="318.25" y1="38.00" x2="325.45" y2="38.00" stroke="#0000ff" stroke-width="1.0" opacity="0.6"/>
<circle cx="316.30" cy="27.00" r="1.85" fill="#0000ff"/>
<circle cx="321.80" cy="26.00" r="1.85" fill="#0000ff"/>
<circle cx="327.40" cy="29.00" r="1.85" fill="#0000ff"/>
<circle cx="321.80" cy="31.20" r="1.85" fill="#0000ff"/>
<circle cx="316.50" cy="40.40" r="1.85" fill="#0000ff"/>
<circle cx="321.80" cy="38.90" r="1.85" fill="#0000ff"/>
<circle cx="327.40" cy="39.30" r="1.85" fill="#0000ff"/>
<line x1="343.10" y1="37.00" x2="343.10" y2="44.00" stroke="#ff0000" stroke-width="1.0" opacity="0.8"/>
<line x1="339.50" y1="37.00" x2="346.70" y2="37.00" stroke="#ff0000" stroke-width="1.0" opacity="0.8"/>
<line x1="339.50" y1="44.00" x2="346.70" y2="44.00" stroke="#ff0000" stroke-width="1.0" opacity="0.6"/>
<rect x="336.00" y="34.80" width="3.20" height="3.20" fill="#ff0000"/>
<rect x="338.60" y="34.80" width="3.20" height="3.20" fill="#ff0000"/>
<rect x="341.60" y="34.80" width="3.20" height="3.20" fill="#ff0000"/>
<rect x="344.40" y="34.80" width="3.20" height="3.20" fill="#ff0000"/>
<rect x="347.00" y="34.80" width="3.20" height="3.20" fill="#ff0000"/>
<rect x="341.50" y="41.30" width="3.20" height="3.20" fill="#ff0000"/>
<rect x="341.50" y="48.40" width="3.20" height="3.20" fill="#ff0000"/>
<line x1="364.40" y1="38.00" x2="364.40" y2="51.50" stroke="#22c322" stroke-width="1.0" opacity="0.8"/>
<line x1="360.80" y1="38.00" x2="368.00" y2="38.00" stroke="#22c322" stroke-width="1.0" opacity="0.8"/>
<line x1="360.80" y1="51.50" x2="368.00" y2="51.50" stroke="#22c322" stroke-width="1.0" opacity="0.6"/>
<path d="M364.50,30.30 L366.40,33.62 L362.60,33.62 Z" fill="#22c322"/>
<path d="M361.40,39.90 L363.30,43.22 L359.50,43.22 Z" fill="#22c322"/>
<path d="M367.40,41.80 L369.30,45.12 L365.50,45.12 Z" fill="#22c322"/>
<path d="M358.60,45.90 L360.50,49.22 L356.70,49.22 Z" fill="#22c322"/>
<path d="M370.10,45.90 L372.00,49.22 L368.20,49.22 Z" fill="#22c322"/>
<path d="M364.50,48.10 L366.40,51.42 L362.60,51.42 Z" fill="#22c322"/>
<path d="M364.50,52.00 L366.40,55.32 L362.60,55.32 Z" fill="#22c322"/>
<line x1="307.40" y1="17.70" x2="307.40" y2="125.30" stroke="#141414" stroke-width="1.4" />
<line x1="302.90" y1="125.30" x2="307.40" y2="125.30" stroke="#141414" stroke-width="1.4" />
<text x="302.20" y="128.75" font-family="Liberation Sans" font-size="8.2" font-weight="bold" text-anchor="end" fill="#111" stroke="#111" stroke-width="0.2" textLength="4.1" lengthAdjust="spacingAndGlyphs" >0</text>
<line x1="302.90" y1="89.67" x2="307.40" y2="89.67" stroke="#141414" stroke-width="1.4" />
<text x="302.20" y="93.12" font-family="Liberation Sans" font-size="8.2" font-weight="bold" text-anchor="end" fill="#111" stroke="#111" stroke-width="0.2" textLength="8.21" lengthAdjust="spacingAndGlyphs" >20</text>
<line x1="302.90" y1="54.03" x2="307.40" y2="54.03" stroke="#141414" stroke-width="1.4" />
<text x="302.20" y="57.49" font-family="Liberation Sans" font-size="8.2" font-weight="bold" text-anchor="end" fill="#111" stroke="#111" stroke-width="0.2" textLength="8.21" lengthAdjust="spacingAndGlyphs" >40</text>
<line x1="302.90" y1="18.40" x2="307.40" y2="18.40" stroke="#141414" stroke-width="1.4" />
<text x="302.20" y="21.85" font-family="Liberation Sans" font-size="8.2" font-weight="bold" text-anchor="end" fill="#111" stroke="#111" stroke-width="0.2" textLength="8.21" lengthAdjust="spacingAndGlyphs" >60</text>
<line x1="305.20" y1="107.48" x2="307.40" y2="107.48" stroke="#141414" stroke-width="1.4" />
<line x1="305.20" y1="71.85" x2="307.40" y2="71.85" stroke="#141414" stroke-width="1.4" />
<line x1="305.20" y1="36.22" x2="307.40" y2="36.22" stroke="#141414" stroke-width="1.4" />
<line x1="302.90" y1="125.30" x2="379.00" y2="125.30" stroke="#141414" stroke-width="1.4" />
<line x1="321.85" y1="125.30" x2="321.85" y2="129.50" stroke="#141414" stroke-width="1.4" />
<line x1="343.10" y1="125.30" x2="343.10" y2="129.50" stroke="#141414" stroke-width="1.4" />
<line x1="364.40" y1="125.30" x2="364.40" y2="129.50" stroke="#141414" stroke-width="1.4" />
<text x="322.20" y="137.90" font-family="Liberation Sans" font-size="7.78" font-weight="bold" text-anchor="middle" fill="#111" stroke="#111" stroke-width="0.25" textLength="10.8" lengthAdjust="spacingAndGlyphs" >HF</text>
<text x="343.40" y="137.90" font-family="Liberation Sans" font-size="7.78" font-weight="bold" text-anchor="middle" fill="#111" stroke="#111" stroke-width="0.25" textLength="15.2" lengthAdjust="spacingAndGlyphs" >HFR</text>
<text x="364.50" y="137.90" font-family="Liberation Sans" font-size="7.78" font-weight="bold" text-anchor="middle" fill="#111" stroke="#111" stroke-width="0.25" textLength="19.8" lengthAdjust="spacingAndGlyphs" >HFRV</text>
<path d="M321.80,20.00 V13.50 H364.40 V25.60" fill="none" stroke="#5a5a5a" stroke-width="1.0"/>
<circle cx="340.50" cy="8.20" r="0.95" fill="#2a2a2a"/>
<circle cx="344.90" cy="8.20" r="0.95" fill="#2a2a2a"/>
<text x="330.70" y="165.25" font-family="Liberation Sans" font-size="18.7" font-weight="normal" text-anchor="start" fill="#000" >B</text>
<rect x="460.73" y="38.73" width="14.35" height="83.45" fill="#8080ff" stroke="#0000ff" stroke-width="1.25"/>
<rect x="483.93" y="42.02" width="14.35" height="80.15" fill="#ff8080" stroke="#ff0000" stroke-width="1.25"/>
<rect x="507.02" y="48.92" width="14.25" height="73.25" fill="#80dc80" stroke="#22c322" stroke-width="1.25"/>
<line x1="467.90" y1="35.50" x2="467.90" y2="40.50" stroke="#0000ff" stroke-width="1.0" opacity="0.8"/>
<line x1="464.30" y1="35.50" x2="471.50" y2="35.50" stroke="#0000ff" stroke-width="1.0" opacity="0.8"/>
<line x1="464.30" y1="40.50" x2="471.50" y2="40.50" stroke="#0000ff" stroke-width="1.0" opacity="0.6"/>
<circle cx="461.60" cy="34.90" r="1.85" fill="#0000ff"/>
<circle cx="467.80" cy="34.40" r="1.85" fill="#0000ff"/>
<circle cx="473.90" cy="33.20" r="1.85" fill="#0000ff"/>
<circle cx="467.80" cy="38.30" r="1.85" fill="#0000ff"/>
<circle cx="473.70" cy="37.30" r="1.85" fill="#0000ff"/>
<circle cx="473.70" cy="41.10" r="1.85" fill="#0000ff"/>
<circle cx="461.80" cy="43.90" r="1.85" fill="#0000ff"/>
<line x1="491.10" y1="36.40" x2="491.10" y2="49.80" stroke="#ff0000" stroke-width="1.0" opacity="0.8"/>
<line x1="487.50" y1="36.40" x2="494.70" y2="36.40" stroke="#ff0000" stroke-width="1.0" opacity="0.8"/>
<line x1="487.50" y1="49.80" x2="494.70" y2="49.80" stroke="#ff0000" stroke-width="1.0" opacity="0.6"/>
<rect x="489.40" y="32.80" width="3.20" height="3.20" fill="#ff0000"/>
<rect x="489.40" y="38.70" width="3.20" height="3.20" fill="#ff0000"/>
<rect x="495.30" y="36.70" width="3.20" height="3.20" fill="#ff0000"/>
<rect x="483.30" y="41.30" width="3.20" height="3.20" fill="#ff0000"/>
<rect x="495.30" y="41.80" width="3.20" height="3.20" fill="#ff0000"/>
<rect x="489.40" y="44.90" width="3.20" height="3.20" fill="#ff0000"/>
<rect x="489.40" y="54.10" width="3.20" height="3.20" fill="#ff0000"/>
<line x1="514.15" y1="40.30" x2="514.15" y2="54.40" stroke="#22c322" stroke-width="1.0" opacity="0.8"/>
<line x1="510.55" y1="40.30" x2="517.75" y2="40.30" stroke="#22c322" stroke-width="1.0" opacity="0.8"/>
<line x1="510.55" y1="54.40" x2="517.75" y2="54.40" stroke="#22c322" stroke-width="1.0" opacity="0.6"/>
<path d="M514.10,35.40 L516.00,38.72 L512.20,38.72 Z" fill="#22c322"/>
<path d="M510.20,42.50 L512.10,45.82 L508.30,45.82 Z" fill="#22c322"/>
<path d="M517.50,40.00 L519.40,43.32 L515.60,43.32 Z" fill="#22c322"/>
<path d="M510.50,49.50 L512.40,52.82 L508.60,52.82 Z" fill="#22c322"/>
<path d="M517.50,49.50 L519.40,52.82 L515.60,52.82 Z" fill="#22c322"/>
<path d="M510.50,53.60 L512.40,56.92 L508.60,56.92 Z" fill="#22c322"/>
<path d="M517.50,52.70 L519.40,56.02 L515.60,56.02 Z" fill="#22c322"/>
<line x1="452.40" y1="6.70" x2="452.40" y2="122.90" stroke="#141414" stroke-width="1.4" />
<line x1="447.90" y1="122.90" x2="452.40" y2="122.90" stroke="#141414" stroke-width="1.4" />
<text x="446.40" y="126.35" font-family="Liberation Sans" font-size="8.2" font-weight="bold" text-anchor="end" fill="#111" stroke="#111" stroke-width="0.2" textLength="4.1" lengthAdjust="spacingAndGlyphs" >0</text>
<line x1="447.90" y1="94.03" x2="452.40" y2="94.03" stroke="#141414" stroke-width="1.4" />
<text x="446.40" y="97.48" font-family="Liberation Sans" font-size="8.2" font-weight="bold" text-anchor="end" fill="#111" stroke="#111" stroke-width="0.2" textLength="8.21" lengthAdjust="spacingAndGlyphs" >10</text>
<line x1="447.90" y1="65.15" x2="452.40" y2="65.15" stroke="#141414" stroke-width="1.4" />
<text x="446.40" y="68.60" font-family="Liberation Sans" font-size="8.2" font-weight="bold" text-anchor="end" fill="#111" stroke="#111" stroke-width="0.2" textLength="8.21" lengthAdjust="spacingAndGlyphs" >20</text>
<line x1="447.90" y1="36.28" x2="452.40" y2="36.28" stroke="#141414" stroke-width="1.4" />
<text x="446.40" y="39.73" font-family="Liberation Sans" font-size="8.2" font-weight="bold" text-anchor="end" fill="#111" stroke="#111" stroke-width="0.2" textLength="8.21" lengthAdjust="spacingAndGlyphs" >30</text>
<line x1="447.90" y1="7.40" x2="452.40" y2="7.40" stroke="#141414" stroke-width="1.4" />
<text x="446.40" y="10.85" font-family="Liberation Sans" font-size="8.2" font-weight="bold" text-anchor="end" fill="#111" stroke="#111" stroke-width="0.2" textLength="8.21" lengthAdjust="spacingAndGlyphs" >40</text>
<line x1="450.20" y1="108.46" x2="452.40" y2="108.46" stroke="#141414" stroke-width="1.4" />
<line x1="450.20" y1="79.59" x2="452.40" y2="79.59" stroke="#141414" stroke-width="1.4" />
<line x1="450.20" y1="50.71" x2="452.40" y2="50.71" stroke="#141414" stroke-width="1.4" />
<line x1="450.20" y1="21.84" x2="452.40" y2="21.84" stroke="#141414" stroke-width="1.4" />
<line x1="447.90" y1="122.90" x2="529.80" y2="122.90" stroke="#141414" stroke-width="1.4" />
<line x1="467.90" y1="122.90" x2="467.90" y2="127.10" stroke="#141414" stroke-width="1.4" />
<line x1="491.10" y1="122.90" x2="491.10" y2="127.10" stroke="#141414" stroke-width="1.4" />
<line x1="514.15" y1="122.90" x2="514.15" y2="127.10" stroke="#141414" stroke-width="1.4" />
<text x="467.70" y="136.90" font-family="Liberation Sans" font-size="8.63" font-weight="bold" text-anchor="middle" fill="#111" stroke="#111" stroke-width="0.25" textLength="10.6" lengthAdjust="spacingAndGlyphs" >HF</text>
<text x="491.00" y="136.90" font-family="Liberation Sans" font-size="8.63" font-weight="bold" text-anchor="middle" fill="#111" stroke="#111" stroke-width="0.25" textLength="16.8" lengthAdjust="spacingAndGlyphs" >HFR</text>
<text x="514.30" y="136.90" font-family="Liberation Sans" font-size="8.63" font-weight="bold" text-anchor="middle" fill="#111" stroke="#111" stroke-width="0.25" textLength="21.8" lengthAdjust="spacingAndGlyphs" >HFRV</text>
<path d="M467.80,26.00 V19.50 H514.10 V29.60" fill="none" stroke="#5a5a5a" stroke-width="1.0"/>
<circle cx="490.40" cy="14.20" r="0.95" fill="#2a2a2a"/>
<text x="489.60" y="165.65" font-family="Liberation Sans" font-size="18.7" font-weight="normal" text-anchor="start" fill="#000" >C</text>
<rect x="607.73" y="36.73" width="13.55" height="79.95" fill="#8080ff" stroke="#0000ff" stroke-width="1.25"/>
<rect x="630.73" y="34.92" width="13.35" height="81.75" fill="#ff8080" stroke="#ff0000" stroke-width="1.25"/>
<rect x="653.73" y="35.42" width="13.35" height="81.25" fill="#80dc80" stroke="#22c322" stroke-width="1.25"/>
<line x1="614.50" y1="33.00" x2="614.50" y2="39.00" stroke="#0000ff" stroke-width="1.0" opacity="0.8"/>
<line x1="610.90" y1="33.00" x2="618.10" y2="33.00" stroke="#0000ff" stroke-width="1.0" opacity="0.8"/>
<line x1="610.90" y1="39.00" x2="618.10" y2="39.00" stroke="#0000ff" stroke-width="1.0" opacity="0.6"/>
<circle cx="617.50" cy="30.70" r="1.85" fill="#0000ff"/>
<circle cx="614.80" cy="33.30" r="1.85" fill="#0000ff"/>
<circle cx="611.70" cy="34.80" r="1.85" fill="#0000ff"/>
<circle cx="608.60" cy="37.40" r="1.85" fill="#0000ff"/>
<circle cx="614.30" cy="36.90" r="1.85" fill="#0000ff"/>
<circle cx="617.30" cy="37.40" r="1.85" fill="#0000ff"/>
<circle cx="620.40" cy="37.90" r="1.85" fill="#0000ff"/>
<line x1="637.40" y1="31.50" x2="637.40" y2="37.50" stroke="#ff0000" stroke-width="1.0" opacity="0.8"/>
<line x1="633.80" y1="31.50" x2="641.00" y2="31.50" stroke="#ff0000" stroke-width="1.0" opacity="0.8"/>
<line x1="633.80" y1="37.50" x2="641.00" y2="37.50" stroke="#ff0000" stroke-width="1.0" opacity="0.6"/>
<rect x="635.70" y="27.10" width="3.20" height="3.20" fill="#ff0000"/>
<rect x="630.00" y="32.20" width="3.20" height="3.20" fill="#ff0000"/>
<rect x="637.70" y="31.70" width="3.20" height="3.20" fill="#ff0000"/>
<rect x="633.60" y="33.70" width="3.20" height="3.20" fill="#ff0000"/>
<rect x="641.80" y="34.20" width="3.20" height="3.20" fill="#ff0000"/>
<rect x="630.00" y="36.80" width="3.20" height="3.20" fill="#ff0000"/>
<rect x="637.70" y="36.80" width="3.20" height="3.20" fill="#ff0000"/>
<line x1="660.40" y1="32.50" x2="660.40" y2="37.00" stroke="#22c322" stroke-width="1.0" opacity="0.8"/>
<line x1="656.80" y1="32.50" x2="664.00" y2="32.50" stroke="#22c322" stroke-width="1.0" opacity="0.8"/>
<line x1="656.80" y1="37.00" x2="664.00" y2="37.00" stroke="#22c322" stroke-width="1.0" opacity="0.6"/>
<path d="M663.30,29.50 L665.20,32.82 L661.40,32.82 Z" fill="#22c322"/>
<path d="M654.60,31.40 L656.50,34.72 L652.70,34.72 Z" fill="#22c322"/>
<path d="M666.40,31.40 L668.30,34.72 L664.50,34.72 Z" fill="#22c322"/>
<path d="M660.40,31.90 L662.30,35.22 L658.50,35.22 Z" fill="#22c322"/>
<path d="M657.20,37.00 L659.10,40.32 L655.30,40.32 Z" fill="#22c322"/>
<path d="M663.00,34.60 L664.90,37.92 L661.10,37.92 Z" fill="#22c322"/>
<line x1="599.40" y1="2.10" x2="599.40" y2="117.40" stroke="#141414" stroke-width="1.4" />
<line x1="594.90" y1="117.40" x2="599.40" y2="117.40" stroke="#141414" stroke-width="1.4" />
<text x="593.00" y="120.85" font-family="Liberation Sans" font-size="8.2" font-weight="bold" text-anchor="end" fill="#111" stroke="#111" stroke-width="0.2" textLength="4.1" lengthAdjust="spacingAndGlyphs" >0</text>
<line x1="594.90" y1="88.75" x2="599.40" y2="88.75" stroke="#141414" stroke-width="1.4" />
<text x="593.00" y="92.20" font-family="Liberation Sans" font-size="8.2" font-weight="bold" text-anchor="end" fill="#111" stroke="#111" stroke-width="0.2" textLength="8.21" lengthAdjust="spacingAndGlyphs" >20</text>
<line x1="594.90" y1="60.10" x2="599.40" y2="60.10" stroke="#141414" stroke-width="1.4" />
<text x="593.00" y="63.55" font-family="Liberation Sans" font-size="8.2" font-weight="bold" text-anchor="end" fill="#111" stroke="#111" stroke-width="0.2" textLength="8.21" lengthAdjust="spacingAndGlyphs" >40</text>
<line x1="594.90" y1="31.45" x2="599.40" y2="31.45" stroke="#141414" stroke-width="1.4" />
<text x="593.00" y="34.90" font-family="Liberation Sans" font-size="8.2" font-weight="bold" text-anchor="end" fill="#111" stroke="#111" stroke-width="0.2" textLength="8.21" lengthAdjust="spacingAndGlyphs" >60</text>
<line x1="594.90" y1="2.80" x2="599.40" y2="2.80" stroke="#141414" stroke-width="1.4" />
<text x="593.00" y="6.25" font-family="Liberation Sans" font-size="8.2" font-weight="bold" text-anchor="end" fill="#111" stroke="#111" stroke-width="0.2" textLength="8.21" lengthAdjust="spacingAndGlyphs" >80</text>
<line x1="597.20" y1="103.08" x2="599.40" y2="103.08" stroke="#141414" stroke-width="1.4" />
<line x1="597.20" y1="74.42" x2="599.40" y2="74.42" stroke="#141414" stroke-width="1.4" />
<line x1="597.20" y1="45.78" x2="599.40" y2="45.78" stroke="#141414" stroke-width="1.4" />
<line x1="597.20" y1="17.12" x2="599.40" y2="17.12" stroke="#141414" stroke-width="1.4" />
<line x1="594.90" y1="117.40" x2="675.80" y2="117.40" stroke="#141414" stroke-width="1.4" />
<line x1="614.50" y1="117.40" x2="614.50" y2="121.60" stroke="#141414" stroke-width="1.4" />
<line x1="637.40" y1="117.40" x2="637.40" y2="121.60" stroke="#141414" stroke-width="1.4" />
<line x1="660.40" y1="117.40" x2="660.40" y2="121.60" stroke="#141414" stroke-width="1.4" />
<text x="614.95" y="130.90" font-family="Liberation Sans" font-size="8.63" font-weight="bold" text-anchor="middle" fill="#111" stroke="#111" stroke-width="0.25" textLength="11.3" lengthAdjust="spacingAndGlyphs" >HF</text>
<text x="637.65" y="130.90" font-family="Liberation Sans" font-size="8.63" font-weight="bold" text-anchor="middle" fill="#111" stroke="#111" stroke-width="0.25" textLength="16.3" lengthAdjust="spacingAndGlyphs" >HFR</text>
<text x="660.50" y="130.90" font-family="Liberation Sans" font-size="8.63" font-weight="bold" text-anchor="middle" fill="#111" stroke="#111" stroke-width="0.25" textLength="22.0" lengthAdjust="spacingAndGlyphs" >HFRV</text>
<text x="633.20" y="167.05" font-family="Liberation Sans" font-size="18.7" font-weight="normal" text-anchor="start" fill="#000" >D</text>
<rect x="38.92" y="230.62" width="13.35" height="93.85" fill="#8080ff" stroke="#0000ff" stroke-width="1.25"/>
<rect x="60.92" y="236.62" width="13.85" height="87.85" fill="#ff8080" stroke="#ff0000" stroke-width="1.25"/>
<rect x="83.83" y="244.43" width="13.05" height="80.05" fill="#80dc80" stroke="#22c322" stroke-width="1.25"/>
<line x1="45.60" y1="219.60" x2="45.60" y2="230.00" stroke="#0000ff" stroke-width="1.0" opacity="0.8"/>
<line x1="42.00" y1="219.60" x2="49.20" y2="219.60" stroke="#0000ff" stroke-width="1.0" opacity="0.8"/>
<circle cx="42.20" cy="218.00" r="1.85" fill="#0000ff"/>
<circle cx="49.00" cy="219.60" r="1.85" fill="#0000ff"/>
<circle cx="42.20" cy="223.40" r="1.85" fill="#0000ff"/>
<circle cx="49.00" cy="224.90" r="1.85" fill="#0000ff"/>
<circle cx="42.20" cy="238.50" r="1.85" fill="#0000ff"/>
<circle cx="49.00" cy="239.50" r="1.85" fill="#0000ff"/>
<circle cx="45.40" cy="243.10" r="1.85" fill="#0000ff"/>
<line x1="67.85" y1="232.60" x2="67.85" y2="244.10" stroke="#ff0000" stroke-width="1.0" opacity="0.8"/>
<line x1="64.25" y1="232.60" x2="71.45" y2="232.60" stroke="#ff0000" stroke-width="1.0" opacity="0.8"/>
<line x1="64.25" y1="244.10" x2="71.45" y2="244.10" stroke="#ff0000" stroke-width="1.0" opacity="0.6"/>
<rect x="66.30" y="227.10" width="3.20" height="3.20" fill="#ff0000"/>
<rect x="66.30" y="233.90" width="3.20" height="3.20" fill="#ff0000"/>
<rect x="60.50" y="235.90" width="3.20" height="3.20" fill="#ff0000"/>
<rect x="72.00" y="235.90" width="3.20" height="3.20" fill="#ff0000"/>
<rect x="66.30" y="239.40" width="3.20" height="3.20" fill="#ff0000"/>
<rect x="60.50" y="243.80" width="3.20" height="3.20" fill="#ff0000"/>
<rect x="72.00" y="242.00" width="3.20" height="3.20" fill="#ff0000"/>
<line x1="90.35" y1="235.30" x2="90.35" y2="251.50" stroke="#22c322" stroke-width="1.0" opacity="0.8"/>
<line x1="86.75" y1="235.30" x2="93.95" y2="235.30" stroke="#22c322" stroke-width="1.0" opacity="0.8"/>
<line x1="86.75" y1="251.50" x2="93.95" y2="251.50" stroke="#22c322" stroke-width="1.0" opacity="0.6"/>
<path d="M90.40,225.40 L92.30,228.73 L88.50,228.73 Z" fill="#22c322"/>
<path d="M90.40,238.70 L92.30,242.03 L88.50,242.03 Z" fill="#22c322"/>
<path d="M84.60,242.40 L86.50,245.73 L82.70,245.73 Z" fill="#22c322"/>
<path d="M96.30,243.50 L98.20,246.83 L94.40,246.83 Z" fill="#22c322"/>
<path d="M90.40,245.10 L92.30,248.43 L88.50,248.43 Z" fill="#22c322"/>
<path d="M90.40,249.10 L92.30,252.43 L88.50,252.43 Z" fill="#22c322"/>
<line x1="30.40" y1="212.30" x2="30.40" y2="325.20" stroke="#141414" stroke-width="1.4" />
<line x1="25.90" y1="325.20" x2="30.40" y2="325.20" stroke="#141414" stroke-width="1.4" />
<text x="25.20" y="328.65" font-family="Liberation Sans" font-size="8.2" font-weight="bold" text-anchor="end" fill="#111" stroke="#111" stroke-width="0.2" textLength="4.1" lengthAdjust="spacingAndGlyphs" >0</text>
<line x1="25.90" y1="302.76" x2="30.40" y2="302.76" stroke="#141414" stroke-width="1.4" />
<text x="25.20" y="306.21" font-family="Liberation Sans" font-size="8.2" font-weight="bold" text-anchor="end" fill="#111" stroke="#111" stroke-width="0.2" textLength="4.1" lengthAdjust="spacingAndGlyphs" >5</text>
<line x1="25.90" y1="280.32" x2="30.40" y2="280.32" stroke="#141414" stroke-width="1.4" />
<text x="25.20" y="283.77" font-family="Liberation Sans" font-size="8.2" font-weight="bold" text-anchor="end" fill="#111" stroke="#111" stroke-width="0.2" textLength="8.21" lengthAdjust="spacingAndGlyphs" >10</text>
<line x1="25.90" y1="257.88" x2="30.40" y2="257.88" stroke="#141414" stroke-width="1.4" />
<text x="25.20" y="261.33" font-family="Liberation Sans" font-size="8.2" font-weight="bold" text-anchor="end" fill="#111" stroke="#111" stroke-width="0.2" textLength="8.21" lengthAdjust="spacingAndGlyphs" >15</text>
<line x1="25.90" y1="235.44" x2="30.40" y2="235.44" stroke="#141414" stroke-width="1.4" />
<text x="25.20" y="238.89" font-family="Liberation Sans" font-size="8.2" font-weight="bold" text-anchor="end" fill="#111" stroke="#111" stroke-width="0.2" textLength="8.21" lengthAdjust="spacingAndGlyphs" >20</text>
<line x1="25.90" y1="213.00" x2="30.40" y2="213.00" stroke="#141414" stroke-width="1.4" />
<text x="25.20" y="216.45" font-family="Liberation Sans" font-size="8.2" font-weight="bold" text-anchor="end" fill="#111" stroke="#111" stroke-width="0.2" textLength="8.21" lengthAdjust="spacingAndGlyphs" >25</text>
<line x1="28.20" y1="313.98" x2="30.40" y2="313.98" stroke="#141414" stroke-width="1.4" />
<line x1="28.20" y1="291.54" x2="30.40" y2="291.54" stroke="#141414" stroke-width="1.4" />
<line x1="28.20" y1="269.10" x2="30.40" y2="269.10" stroke="#141414" stroke-width="1.4" />
<line x1="28.20" y1="246.66" x2="30.40" y2="246.66" stroke="#141414" stroke-width="1.4" />
<line x1="28.20" y1="224.22" x2="30.40" y2="224.22" stroke="#141414" stroke-width="1.4" />
<line x1="25.90" y1="325.20" x2="105.20" y2="325.20" stroke="#141414" stroke-width="1.4" />
<line x1="45.60" y1="325.20" x2="45.60" y2="329.40" stroke="#141414" stroke-width="1.4" />
<line x1="67.85" y1="325.20" x2="67.85" y2="329.40" stroke="#141414" stroke-width="1.4" />
<line x1="90.35" y1="325.20" x2="90.35" y2="329.40" stroke="#141414" stroke-width="1.4" />
<text x="45.95" y="338.30" font-family="Liberation Sans" font-size="8.21" font-weight="bold" text-anchor="middle" fill="#111" stroke="#111" stroke-width="0.25" textLength="10.5" lengthAdjust="spacingAndGlyphs" >HF</text>
<text x="68.05" y="338.30" font-family="Liberation Sans" font-size="8.21" font-weight="bold" text-anchor="middle" fill="#111" stroke="#111" stroke-width="0.25" textLength="15.9" lengthAdjust="spacingAndGlyphs" >HFR</text>
<text x="90.40" y="338.30" font-family="Liberation Sans" font-size="8.21" font-weight="bold" text-anchor="middle" fill="#111" stroke="#111" stroke-width="0.25" textLength="21.2" lengthAdjust="spacingAndGlyphs" >HFRV</text>
<path d="M46.00,212.70 V207.50 H90.70 V221.90" fill="none" stroke="#5a5a5a" stroke-width="1.0"/>
<circle cx="67.50" cy="202.00" r="0.95" fill="#2a2a2a"/>
<text x="63.00" y="372.05" font-family="Liberation Sans" font-size="18.7" font-weight="normal" text-anchor="start" fill="#000" >E</text>
<rect x="179.93" y="230.62" width="14.15" height="94.05" fill="#8080ff" stroke="#0000ff" stroke-width="1.25"/>
<rect x="203.72" y="230.93" width="13.55" height="93.75" fill="#ff8080" stroke="#ff0000" stroke-width="1.25"/>
<rect x="226.72" y="231.43" width="14.25" height="93.25" fill="#80dc80" stroke="#22c322" stroke-width="1.25"/>
<line x1="187.00" y1="226.50" x2="187.00" y2="233.50" stroke="#0000ff" stroke-width="1.0" opacity="0.8"/>
<line x1="183.40" y1="226.50" x2="190.60" y2="226.50" stroke="#0000ff" stroke-width="1.0" opacity="0.8"/>
<line x1="183.40" y1="233.50" x2="190.60" y2="233.50" stroke="#0000ff" stroke-width="1.0" opacity="0.6"/>
<circle cx="181.10" cy="225.20" r="1.85" fill="#0000ff"/>
<circle cx="185.00" cy="225.20" r="1.85" fill="#0000ff"/>
<circle cx="189.00" cy="227.30" r="1.85" fill="#0000ff"/>
<circle cx="193.20" cy="226.40" r="1.85" fill="#0000ff"/>
<circle cx="185.00" cy="230.30" r="1.85" fill="#0000ff"/>
<circle cx="189.00" cy="233.20" r="1.85" fill="#0000ff"/>
<circle cx="187.00" cy="237.30" r="1.85" fill="#0000ff"/>
<line x1="210.50" y1="226.50" x2="210.50" y2="236.00" stroke="#ff0000" stroke-width="1.0" opacity="0.8"/>
<line x1="206.90" y1="226.50" x2="214.10" y2="226.50" stroke="#ff0000" stroke-width="1.0" opacity="0.8"/>
<line x1="206.90" y1="236.00" x2="214.10" y2="236.00" stroke="#ff0000" stroke-width="1.0" opacity="0.6"/>
<rect x="205.90" y="223.30" width="3.20" height="3.20" fill="#ff0000"/>
<rect x="211.90" y="223.30" width="3.20" height="3.20" fill="#ff0000"/>
<rect x="208.90" y="227.70" width="3.20" height="3.20" fill="#ff0000"/>
<rect x="203.00" y="228.90" width="3.20" height="3.20" fill="#ff0000"/>
<rect x="214.80" y="230.60" width="3.20" height="3.20" fill="#ff0000"/>
<rect x="208.90" y="230.80" width="3.20" height="3.20" fill="#ff0000"/>
<rect x="208.90" y="239.80" width="3.20" height="3.20" fill="#ff0000"/>
<line x1="233.85" y1="227.00" x2="233.85" y2="234.00" stroke="#22c322" stroke-width="1.0" opacity="0.8"/>
<line x1="230.25" y1="227.00" x2="237.45" y2="227.00" stroke="#22c322" stroke-width="1.0" opacity="0.8"/>
<line x1="230.25" y1="234.00" x2="237.45" y2="234.00" stroke="#22c322" stroke-width="1.0" opacity="0.6"/>
<path d="M234.00,222.30 L235.90,225.62 L232.10,225.62 Z" fill="#22c322"/>
<path d="M227.60,226.40 L229.50,229.73 L225.70,229.73 Z" fill="#22c322"/>
<path d="M239.90,227.40 L241.80,230.73 L238.00,230.73 Z" fill="#22c322"/>
<path d="M234.00,232.00 L235.90,235.33 L232.10,235.33 Z" fill="#22c322"/>
<path d="M227.60,235.10 L229.50,238.43 L225.70,238.43 Z" fill="#22c322"/>
<path d="M239.90,231.10 L241.80,234.43 L238.00,234.43 Z" fill="#22c322"/>
<line x1="171.40" y1="207.70" x2="171.40" y2="325.40" stroke="#141414" stroke-width="1.4" />
<line x1="166.90" y1="325.40" x2="171.40" y2="325.40" stroke="#141414" stroke-width="1.4" />
<text x="166.00" y="328.85" font-family="Liberation Sans" font-size="8.2" font-weight="bold" text-anchor="end" fill="#111" stroke="#111" stroke-width="0.2" textLength="4.1" lengthAdjust="spacingAndGlyphs" >0</text>
<line x1="166.90" y1="302.00" x2="171.40" y2="302.00" stroke="#141414" stroke-width="1.4" />
<text x="166.00" y="305.45" font-family="Liberation Sans" font-size="8.2" font-weight="bold" text-anchor="end" fill="#111" stroke="#111" stroke-width="0.2" textLength="8.21" lengthAdjust="spacingAndGlyphs" >10</text>
<line x1="166.90" y1="278.60" x2="171.40" y2="278.60" stroke="#141414" stroke-width="1.4" />
<text x="166.00" y="282.05" font-family="Liberation Sans" font-size="8.2" font-weight="bold" text-anchor="end" fill="#111" stroke="#111" stroke-width="0.2" textLength="8.21" lengthAdjust="spacingAndGlyphs" >20</text>
<line x1="166.90" y1="255.20" x2="171.40" y2="255.20" stroke="#141414" stroke-width="1.4" />
<text x="166.00" y="258.65" font-family="Liberation Sans" font-size="8.2" font-weight="bold" text-anchor="end" fill="#111" stroke="#111" stroke-width="0.2" textLength="8.21" lengthAdjust="spacingAndGlyphs" >30</text>
<line x1="166.90" y1="231.80" x2="171.40" y2="231.80" stroke="#141414" stroke-width="1.4" />
<text x="166.00" y="235.25" font-family="Liberation Sans" font-size="8.2" font-weight="bold" text-anchor="end" fill="#111" stroke="#111" stroke-width="0.2" textLength="8.21" lengthAdjust="spacingAndGlyphs" >40</text>
<line x1="166.90" y1="208.40" x2="171.40" y2="208.40" stroke="#141414" stroke-width="1.4" />
<text x="166.00" y="211.85" font-family="Liberation Sans" font-size="8.2" font-weight="bold" text-anchor="end" fill="#111" stroke="#111" stroke-width="0.2" textLength="8.21" lengthAdjust="spacingAndGlyphs" >50</text>
<line x1="169.20" y1="313.70" x2="171.40" y2="313.70" stroke="#141414" stroke-width="1.4" />
<line x1="169.20" y1="290.30" x2="171.40" y2="290.30" stroke="#141414" stroke-width="1.4" />
<line x1="169.20" y1="266.90" x2="171.40" y2="266.90" stroke="#141414" stroke-width="1.4" />
<line x1="169.20" y1="243.50" x2="171.40" y2="243.50" stroke="#141414" stroke-width="1.4" />
<line x1="169.20" y1="220.10" x2="171.40" y2="220.10" stroke="#141414" stroke-width="1.4" />
<line x1="166.90" y1="325.40" x2="250.00" y2="325.40" stroke="#141414" stroke-width="1.4" />
<line x1="187.00" y1="325.40" x2="187.00" y2="329.60" stroke="#141414" stroke-width="1.4" />
<line x1="210.50" y1="325.40" x2="210.50" y2="329.60" stroke="#141414" stroke-width="1.4" />
<line x1="233.85" y1="325.40" x2="233.85" y2="329.60" stroke="#141414" stroke-width="1.4" />
<text x="187.30" y="339.00" font-family="Liberation Sans" font-size="8.07" font-weight="bold" text-anchor="middle" fill="#111" stroke="#111" stroke-width="0.25" textLength="11.0" lengthAdjust="spacingAndGlyphs" >HF</text>
<text x="210.85" y="339.00" font-family="Liberation Sans" font-size="8.07" font-weight="bold" text-anchor="middle" fill="#111" stroke="#111" stroke-width="0.25" textLength="16.5" lengthAdjust="spacingAndGlyphs" >HFR</text>
<text x="233.85" y="339.00" font-family="Liberation Sans" font-size="8.07" font-weight="bold" text-anchor="middle" fill="#111" stroke="#111" stroke-width="0.25" textLength="21.9" lengthAdjust="spacingAndGlyphs" >HFRV</text>
<text x="211.80" y="371.65" font-family="Liberation Sans" font-size="18.7" font-weight="normal" text-anchor="start" fill="#000" >F</text>
<rect x="324.73" y="227.53" width="13.35" height="93.75" fill="#8080ff" stroke="#0000ff" stroke-width="1.25"/>
<rect x="347.43" y="228.53" width="13.65" height="92.75" fill="#ff8080" stroke="#ff0000" stroke-width="1.25"/>
<rect x="370.23" y="228.53" width="13.75" height="92.75" fill="#80dc80" stroke="#22c322" stroke-width="1.25"/>
<line x1="331.40" y1="223.00" x2="331.40" y2="230.50" stroke="#0000ff" stroke-width="1.0" opacity="0.8"/>
<line x1="327.80" y1="223.00" x2="335.00" y2="223.00" stroke="#0000ff" stroke-width="1.0" opacity="0.8"/>
<line x1="327.80" y1="230.50" x2="335.00" y2="230.50" stroke="#0000ff" stroke-width="1.0" opacity="0.6"/>
<circle cx="325.30" cy="222.60" r="1.85" fill="#0000ff"/>
<circle cx="329.20" cy="222.60" r="1.85" fill="#0000ff"/>
<circle cx="333.00" cy="223.50" r="1.85" fill="#0000ff"/>
<circle cx="337.20" cy="224.30" r="1.85" fill="#0000ff"/>
<circle cx="329.20" cy="227.40" r="1.85" fill="#0000ff"/>
<circle cx="333.00" cy="229.90" r="1.85" fill="#0000ff"/>
<circle cx="331.00" cy="234.20" r="1.85" fill="#0000ff"/>
<line x1="354.25" y1="224.00" x2="354.25" y2="232.50" stroke="#ff0000" stroke-width="1.0" opacity="0.8"/>
<line x1="350.65" y1="224.00" x2="357.85" y2="224.00" stroke="#ff0000" stroke-width="1.0" opacity="0.8"/>
<line x1="350.65" y1="232.50" x2="357.85" y2="232.50" stroke="#ff0000" stroke-width="1.0" opacity="0.6"/>
<rect x="349.60" y="220.20" width="3.20" height="3.20" fill="#ff0000"/>
<rect x="355.40" y="220.20" width="3.20" height="3.20" fill="#ff0000"/>
<rect x="352.60" y="224.80" width="3.20" height="3.20" fill="#ff0000"/>
<rect x="346.50" y="225.60" width="3.20" height="3.20" fill="#ff0000"/>
<rect x="358.30" y="227.30" width="3.20" height="3.20" fill="#ff0000"/>
<rect x="352.60" y="228.50" width="3.20" height="3.20" fill="#ff0000"/>
<rect x="352.60" y="236.50" width="3.20" height="3.20" fill="#ff0000"/>
<line x1="377.10" y1="223.50" x2="377.10" y2="231.00" stroke="#22c322" stroke-width="1.0" opacity="0.8"/>
<line x1="373.50" y1="223.50" x2="380.70" y2="223.50" stroke="#22c322" stroke-width="1.0" opacity="0.8"/>
<line x1="373.50" y1="231.00" x2="380.70" y2="231.00" stroke="#22c322" stroke-width="1.0" opacity="0.6"/>
<path d="M376.90,218.60 L378.80,221.93 L375.00,221.93 Z" fill="#22c322"/>
<path d="M371.10,223.40 L373.00,226.73 L369.20,226.73 Z" fill="#22c322"/>
<path d="M382.80,223.90 L384.70,227.23 L380.90,227.23 Z" fill="#22c322"/>
<path d="M376.90,228.50 L378.80,231.83 L375.00,231.83 Z" fill="#22c322"/>
<path d="M371.10,232.10 L373.00,235.43 L369.20,235.43 Z" fill="#22c322"/>
<path d="M382.80,228.10 L384.70,231.43 L380.90,231.43 Z" fill="#22c322"/>
<line x1="316.00" y1="206.90" x2="316.00" y2="322.00" stroke="#141414" stroke-width="1.4" />
<line x1="311.50" y1="322.00" x2="316.00" y2="322.00" stroke="#141414" stroke-width="1.4" />
<text x="310.40" y="325.45" font-family="Liberation Sans" font-size="8.2" font-weight="bold" text-anchor="end" fill="#111" stroke="#111" stroke-width="0.2" textLength="4.1" lengthAdjust="spacingAndGlyphs" >0</text>
<line x1="311.50" y1="299.12" x2="316.00" y2="299.12" stroke="#141414" stroke-width="1.4" />
<text x="310.40" y="302.57" font-family="Liberation Sans" font-size="8.2" font-weight="bold" text-anchor="end" fill="#111" stroke="#111" stroke-width="0.2" textLength="8.21" lengthAdjust="spacingAndGlyphs" >10</text>
<line x1="311.50" y1="276.24" x2="316.00" y2="276.24" stroke="#141414" stroke-width="1.4" />
<text x="310.40" y="279.69" font-family="Liberation Sans" font-size="8.2" font-weight="bold" text-anchor="end" fill="#111" stroke="#111" stroke-width="0.2" textLength="8.21" lengthAdjust="spacingAndGlyphs" >20</text>
<line x1="311.50" y1="253.36" x2="316.00" y2="253.36" stroke="#141414" stroke-width="1.4" />
<text x="310.40" y="256.81" font-family="Liberation Sans" font-size="8.2" font-weight="bold" text-anchor="end" fill="#111" stroke="#111" stroke-width="0.2" textLength="8.21" lengthAdjust="spacingAndGlyphs" >30</text>
<line x1="311.50" y1="230.48" x2="316.00" y2="230.48" stroke="#141414" stroke-width="1.4" />
<text x="310.40" y="233.93" font-family="Liberation Sans" font-size="8.2" font-weight="bold" text-anchor="end" fill="#111" stroke="#111" stroke-width="0.2" textLength="8.21" lengthAdjust="spacingAndGlyphs" >40</text>
<line x1="311.50" y1="207.60" x2="316.00" y2="207.60" stroke="#141414" stroke-width="1.4" />
<text x="310.40" y="211.05" font-family="Liberation Sans" font-size="8.2" font-weight="bold" text-anchor="end" fill="#111" stroke="#111" stroke-width="0.2" textLength="8.21" lengthAdjust="spacingAndGlyphs" >50</text>
<line x1="313.80" y1="310.56" x2="316.00" y2="310.56" stroke="#141414" stroke-width="1.4" />
<line x1="313.80" y1="287.68" x2="316.00" y2="287.68" stroke="#141414" stroke-width="1.4" />
<line x1="313.80" y1="264.80" x2="316.00" y2="264.80" stroke="#141414" stroke-width="1.4" />
<line x1="313.80" y1="241.92" x2="316.00" y2="241.92" stroke="#141414" stroke-width="1.4" />
<line x1="313.80" y1="219.04" x2="316.00" y2="219.04" stroke="#141414" stroke-width="1.4" />
<line x1="311.50" y1="322.00" x2="393.20" y2="322.00" stroke="#141414" stroke-width="1.4" />
<line x1="331.40" y1="322.00" x2="331.40" y2="326.20" stroke="#141414" stroke-width="1.4" />
<line x1="354.25" y1="322.00" x2="354.25" y2="326.20" stroke="#141414" stroke-width="1.4" />
<line x1="377.10" y1="322.00" x2="377.10" y2="326.20" stroke="#141414" stroke-width="1.4" />
<text x="331.50" y="335.60" font-family="Liberation Sans" font-size="8.63" font-weight="bold" text-anchor="middle" fill="#111" stroke="#111" stroke-width="0.25" textLength="10.4" lengthAdjust="spacingAndGlyphs" >HF</text>
<text x="354.25" y="335.60" font-family="Liberation Sans" font-size="8.63" font-weight="bold" text-anchor="middle" fill="#111" stroke="#111" stroke-width="0.25" textLength="16.5" lengthAdjust="spacingAndGlyphs" >HFR</text>
<text x="377.10" y="335.60" font-family="Liberation Sans" font-size="8.63" font-weight="bold" text-anchor="middle" fill="#111" stroke="#111" stroke-width="0.25" textLength="21.0" lengthAdjust="spacingAndGlyphs" >HFRV</text>
<text x="349.00" y="372.05" font-family="Liberation Sans" font-size="18.7" font-weight="normal" text-anchor="start" fill="#000" >G</text>
<rect x="461.23" y="244.22" width="14.35" height="82.45" fill="#8080ff" stroke="#0000ff" stroke-width="1.25"/>
<rect x="485.02" y="250.62" width="14.55" height="76.05" fill="#ff8080" stroke="#ff0000" stroke-width="1.25"/>
<rect x="509.62" y="232.62" width="14.35" height="94.05" fill="#80dc80" stroke="#22c322" stroke-width="1.25"/>
<line x1="468.40" y1="227.00" x2="468.40" y2="260.00" stroke="#0000ff" stroke-width="1.0" opacity="0.8"/>
<line x1="464.80" y1="227.00" x2="472.00" y2="227.00" stroke="#0000ff" stroke-width="1.0" opacity="0.8"/>
<line x1="464.80" y1="260.00" x2="472.00" y2="260.00" stroke="#0000ff" stroke-width="1.0" opacity="0.6"/>
<circle cx="468.60" cy="225.60" r="1.85" fill="#0000ff"/>
<circle cx="474.60" cy="221.60" r="1.85" fill="#0000ff"/>
<circle cx="462.00" cy="244.00" r="1.85" fill="#0000ff"/>
<circle cx="468.60" cy="244.00" r="1.85" fill="#0000ff"/>
<circle cx="474.60" cy="244.40" r="1.85" fill="#0000ff"/>
<circle cx="468.60" cy="258.00" r="1.85" fill="#0000ff"/>
<circle cx="468.60" cy="269.20" r="1.85" fill="#0000ff"/>
<line x1="492.30" y1="234.40" x2="492.30" y2="265.40" stroke="#ff0000" stroke-width="1.0" opacity="0.8"/>
<line x1="488.70" y1="234.40" x2="495.90" y2="234.40" stroke="#ff0000" stroke-width="1.0" opacity="0.8"/>
<line x1="488.70" y1="265.40" x2="495.90" y2="265.40" stroke="#ff0000" stroke-width="1.0" opacity="0.6"/>
<rect x="490.80" y="220.40" width="3.20" height="3.20" fill="#ff0000"/>
<rect x="490.80" y="238.40" width="3.20" height="3.20" fill="#ff0000"/>
<rect x="490.80" y="243.80" width="3.20" height="3.20" fill="#ff0000"/>
<rect x="490.80" y="253.40" width="3.20" height="3.20" fill="#ff0000"/>
<rect x="487.40" y="257.80" width="3.20" height="3.20" fill="#ff0000"/>
<rect x="494.40" y="259.80" width="3.20" height="3.20" fill="#ff0000"/>
<rect x="490.80" y="265.00" width="3.20" height="3.20" fill="#ff0000"/>
<line x1="516.80" y1="219.00" x2="516.80" y2="243.00" stroke="#22c322" stroke-width="1.0" opacity="0.8"/>
<line x1="513.20" y1="219.00" x2="520.40" y2="219.00" stroke="#22c322" stroke-width="1.0" opacity="0.8"/>
<line x1="513.20" y1="243.00" x2="520.40" y2="243.00" stroke="#22c322" stroke-width="1.0" opacity="0.6"/>
<path d="M510.40,217.70 L512.30,221.03 L508.50,221.03 Z" fill="#22c322"/>
<path d="M516.60,216.10 L518.50,219.43 L514.70,219.43 Z" fill="#22c322"/>
<path d="M523.00,218.50 L524.90,221.83 L521.10,221.83 Z" fill="#22c322"/>
<path d="M510.40,241.70 L512.30,245.03 L508.50,245.03 Z" fill="#22c322"/>
<path d="M516.60,240.50 L518.50,243.83 L514.70,243.83 Z" fill="#22c322"/>
<path d="M523.00,241.70 L524.90,245.03 L521.10,245.03 Z" fill="#22c322"/>
<path d="M523.00,236.10 L524.90,239.43 L521.10,239.43 Z" fill="#22c322"/>
<line x1="452.40" y1="206.30" x2="452.40" y2="327.40" stroke="#141414" stroke-width="1.4" />
<line x1="447.90" y1="327.40" x2="452.40" y2="327.40" stroke="#141414" stroke-width="1.4" />
<text x="446.40" y="330.85" font-family="Liberation Sans" font-size="8.2" font-weight="bold" text-anchor="end" fill="#111" stroke="#111" stroke-width="0.2" textLength="4.1" lengthAdjust="spacingAndGlyphs" >0</text>
<line x1="447.90" y1="297.30" x2="452.40" y2="297.30" stroke="#141414" stroke-width="1.4" />
<text x="446.40" y="300.75" font-family="Liberation Sans" font-size="8.2" font-weight="bold" text-anchor="end" fill="#111" stroke="#111" stroke-width="0.2" textLength="8.21" lengthAdjust="spacingAndGlyphs" >50</text>
<line x1="447.90" y1="267.20" x2="452.40" y2="267.20" stroke="#141414" stroke-width="1.4" />
<text x="446.40" y="270.65" font-family="Liberation Sans" font-size="8.2" font-weight="bold" text-anchor="end" fill="#111" stroke="#111" stroke-width="0.2" textLength="12.31" lengthAdjust="spacingAndGlyphs" >100</text>
<line x1="447.90" y1="237.10" x2="452.40" y2="237.10" stroke="#141414" stroke-width="1.4" />
<text x="446.40" y="240.55" font-family="Liberation Sans" font-size="8.2" font-weight="bold" text-anchor="end" fill="#111" stroke="#111" stroke-width="0.2" textLength="12.31" lengthAdjust="spacingAndGlyphs" >150</text>
<line x1="447.90" y1="207.00" x2="452.40" y2="207.00" stroke="#141414" stroke-width="1.4" />
<text x="446.40" y="210.45" font-family="Liberation Sans" font-size="8.2" font-weight="bold" text-anchor="end" fill="#111" stroke="#111" stroke-width="0.2" textLength="12.31" lengthAdjust="spacingAndGlyphs" >200</text>
<line x1="450.20" y1="312.35" x2="452.40" y2="312.35" stroke="#141414" stroke-width="1.4" />
<line x1="450.20" y1="282.25" x2="452.40" y2="282.25" stroke="#141414" stroke-width="1.4" />
<line x1="450.20" y1="252.15" x2="452.40" y2="252.15" stroke="#141414" stroke-width="1.4" />
<line x1="450.20" y1="222.05" x2="452.40" y2="222.05" stroke="#141414" stroke-width="1.4" />
<line x1="447.90" y1="327.40" x2="533.20" y2="327.40" stroke="#141414" stroke-width="1.4" />
<line x1="468.40" y1="327.40" x2="468.40" y2="331.60" stroke="#141414" stroke-width="1.4" />
<line x1="492.30" y1="327.40" x2="492.30" y2="331.60" stroke="#141414" stroke-width="1.4" />
<line x1="516.80" y1="327.40" x2="516.80" y2="331.60" stroke="#141414" stroke-width="1.4" />
<text x="468.70" y="341.90" font-family="Liberation Sans" font-size="8.63" font-weight="bold" text-anchor="middle" fill="#111" stroke="#111" stroke-width="0.25" textLength="11.0" lengthAdjust="spacingAndGlyphs" >HF</text>
<text x="492.75" y="341.90" font-family="Liberation Sans" font-size="8.63" font-weight="bold" text-anchor="middle" fill="#111" stroke="#111" stroke-width="0.25" textLength="16.5" lengthAdjust="spacingAndGlyphs" >HFR</text>
<text x="516.85" y="341.90" font-family="Liberation Sans" font-size="8.63" font-weight="bold" text-anchor="middle" fill="#111" stroke="#111" stroke-width="0.25" textLength="21.9" lengthAdjust="spacingAndGlyphs" >HFRV</text>
<text x="489.00" y="371.65" font-family="Liberation Sans" font-size="18.7" font-weight="normal" text-anchor="start" fill="#000" >H</text>
<rect x="607.73" y="312.93" width="13.55" height="15.15" fill="#8080ff" stroke="#0000ff" stroke-width="1.25"/>
<rect x="630.62" y="309.62" width="13.75" height="18.45" fill="#ff8080" stroke="#ff0000" stroke-width="1.25"/>
<rect x="653.62" y="288.62" width="13.75" height="39.45" fill="#80dc80" stroke="#22c322" stroke-width="1.25"/>
<line x1="614.50" y1="303.30" x2="614.50" y2="320.50" stroke="#0000ff" stroke-width="1.0" opacity="0.8"/>
<line x1="610.90" y1="303.30" x2="618.10" y2="303.30" stroke="#0000ff" stroke-width="1.0" opacity="0.8"/>
<line x1="610.90" y1="320.50" x2="618.10" y2="320.50" stroke="#0000ff" stroke-width="1.0" opacity="0.6"/>
<circle cx="611.70" cy="300.20" r="1.85" fill="#0000ff"/>
<circle cx="617.60" cy="299.90" r="1.85" fill="#0000ff"/>
<circle cx="608.80" cy="314.00" r="1.85" fill="#0000ff"/>
<circle cx="614.50" cy="315.50" r="1.85" fill="#0000ff"/>
<circle cx="619.90" cy="314.50" r="1.85" fill="#0000ff"/>
<circle cx="608.80" cy="320.10" r="1.85" fill="#0000ff"/>
<circle cx="619.90" cy="317.60" r="1.85" fill="#0000ff"/>
<line x1="637.50" y1="299.40" x2="637.50" y2="318.00" stroke="#ff0000" stroke-width="1.0" opacity="0.8"/>
<line x1="633.90" y1="299.40" x2="641.10" y2="299.40" stroke="#ff0000" stroke-width="1.0" opacity="0.8"/>
<line x1="633.90" y1="318.00" x2="641.10" y2="318.00" stroke="#ff0000" stroke-width="1.0" opacity="0.6"/>
<rect x="635.80" y="294.50" width="3.20" height="3.20" fill="#ff0000"/>
<rect x="635.80" y="299.10" width="3.20" height="3.20" fill="#ff0000"/>
<rect x="632.10" y="303.00" width="3.20" height="3.20" fill="#ff0000"/>
<rect x="639.40" y="304.70" width="3.20" height="3.20" fill="#ff0000"/>
<rect x="635.80" y="311.70" width="3.20" height="3.20" fill="#ff0000"/>
<rect x="632.30" y="318.00" width="3.20" height="3.20" fill="#ff0000"/>
<rect x="639.20" y="317.70" width="3.20" height="3.20" fill="#ff0000"/>
<line x1="660.50" y1="259.60" x2="660.50" y2="316.00" stroke="#22c322" stroke-width="1.0" opacity="0.8"/>
<line x1="656.90" y1="259.60" x2="664.10" y2="259.60" stroke="#22c322" stroke-width="1.0" opacity="0.8"/>
<line x1="656.90" y1="316.00" x2="664.10" y2="316.00" stroke="#22c322" stroke-width="1.0" opacity="0.6"/>
<path d="M660.40,227.50 L662.30,230.83 L658.50,230.83 Z" fill="#22c322"/>
<path d="M660.40,282.50 L662.30,285.82 L658.50,285.82 Z" fill="#22c322"/>
<path d="M656.50,287.10 L658.40,290.43 L654.60,290.43 Z" fill="#22c322"/>
<path d="M664.50,287.10 L666.40,290.43 L662.60,290.43 Z" fill="#22c322"/>
<path d="M660.20,301.20 L662.10,304.53 L658.30,304.53 Z" fill="#22c322"/>
<path d="M656.60,309.80 L658.50,313.12 L654.70,313.12 Z" fill="#22c322"/>
<path d="M663.80,309.60 L665.70,312.93 L661.90,312.93 Z" fill="#22c322"/>
<line x1="599.50" y1="213.90" x2="599.50" y2="328.80" stroke="#141414" stroke-width="1.4" />
<line x1="595.00" y1="328.80" x2="599.50" y2="328.80" stroke="#141414" stroke-width="1.4" />
<text x="593.20" y="332.25" font-family="Liberation Sans" font-size="8.2" font-weight="bold" text-anchor="end" fill="#111" stroke="#111" stroke-width="0.2" textLength="4.1" lengthAdjust="spacingAndGlyphs" >0</text>
<line x1="595.00" y1="290.73" x2="599.50" y2="290.73" stroke="#141414" stroke-width="1.4" />
<text x="593.20" y="294.19" font-family="Liberation Sans" font-size="8.2" font-weight="bold" text-anchor="end" fill="#111" stroke="#111" stroke-width="0.2" textLength="12.31" lengthAdjust="spacingAndGlyphs" >100</text>
<line x1="595.00" y1="252.67" x2="599.50" y2="252.67" stroke="#141414" stroke-width="1.4" />
<text x="593.20" y="256.12" font-family="Liberation Sans" font-size="8.2" font-weight="bold" text-anchor="end" fill="#111" stroke="#111" stroke-width="0.2" textLength="12.31" lengthAdjust="spacingAndGlyphs" >200</text>
<line x1="595.00" y1="214.60" x2="599.50" y2="214.60" stroke="#141414" stroke-width="1.4" />
<text x="593.20" y="218.05" font-family="Liberation Sans" font-size="8.2" font-weight="bold" text-anchor="end" fill="#111" stroke="#111" stroke-width="0.2" textLength="12.31" lengthAdjust="spacingAndGlyphs" >300</text>
<line x1="597.30" y1="309.77" x2="599.50" y2="309.77" stroke="#141414" stroke-width="1.4" />
<line x1="597.30" y1="271.70" x2="599.50" y2="271.70" stroke="#141414" stroke-width="1.4" />
<line x1="597.30" y1="233.63" x2="599.50" y2="233.63" stroke="#141414" stroke-width="1.4" />
<line x1="595.00" y1="328.80" x2="676.20" y2="328.80" stroke="#141414" stroke-width="1.4" />
<line x1="614.50" y1="328.80" x2="614.50" y2="333.00" stroke="#141414" stroke-width="1.4" />
<line x1="637.50" y1="328.80" x2="637.50" y2="333.00" stroke="#141414" stroke-width="1.4" />
<line x1="660.50" y1="328.80" x2="660.50" y2="333.00" stroke="#141414" stroke-width="1.4" />
<text x="614.95" y="342.30" font-family="Liberation Sans" font-size="8.21" font-weight="bold" text-anchor="middle" fill="#111" stroke="#111" stroke-width="0.25" textLength="10.5" lengthAdjust="spacingAndGlyphs" >HF</text>
<text x="637.65" y="342.30" font-family="Liberation Sans" font-size="8.21" font-weight="bold" text-anchor="middle" fill="#111" stroke="#111" stroke-width="0.25" textLength="16.5" lengthAdjust="spacingAndGlyphs" >HFR</text>
<text x="660.50" y="342.30" font-family="Liberation Sans" font-size="8.21" font-weight="bold" text-anchor="middle" fill="#111" stroke="#111" stroke-width="0.25" textLength="21.6" lengthAdjust="spacingAndGlyphs" >HFRV</text>
<text x="628.00" y="374.65" font-family="Liberation Sans" font-size="18.7" font-weight="normal" text-anchor="start" fill="#000" >I</text>
<rect x="45.62" y="460.23" width="13.35" height="60.55" fill="#8080ff" stroke="#0000ff" stroke-width="1.25"/>
<rect x="67.62" y="449.62" width="13.75" height="71.15" fill="#ff8080" stroke="#ff0000" stroke-width="1.25"/>
<rect x="89.62" y="452.02" width="13.75" height="68.75" fill="#80dc80" stroke="#22c322" stroke-width="1.25"/>
<line x1="52.30" y1="446.00" x2="52.30" y2="473.00" stroke="#0000ff" stroke-width="1.0" opacity="0.8"/>
<line x1="48.70" y1="446.00" x2="55.90" y2="446.00" stroke="#0000ff" stroke-width="1.0" opacity="0.8"/>
<line x1="48.70" y1="473.00" x2="55.90" y2="473.00" stroke="#0000ff" stroke-width="1.0" opacity="0.6"/>
<circle cx="52.30" cy="441.00" r="1.85" fill="#0000ff"/>
<circle cx="48.60" cy="448.50" r="1.85" fill="#0000ff"/>
<circle cx="55.60" cy="449.50" r="1.85" fill="#0000ff"/>
<circle cx="52.30" cy="459.30" r="1.85" fill="#0000ff"/>
<circle cx="48.60" cy="469.30" r="1.85" fill="#0000ff"/>
<circle cx="55.60" cy="472.20" r="1.85" fill="#0000ff"/>
<circle cx="48.60" cy="474.60" r="1.85" fill="#0000ff"/>
<line x1="74.50" y1="444.00" x2="74.50" y2="457.00" stroke="#ff0000" stroke-width="1.0" opacity="0.8"/>
<line x1="70.90" y1="444.00" x2="78.10" y2="444.00" stroke="#ff0000" stroke-width="1.0" opacity="0.8"/>
<line x1="70.90" y1="457.00" x2="78.10" y2="457.00" stroke="#ff0000" stroke-width="1.0" opacity="0.6"/>
<rect x="72.80" y="441.40" width="3.20" height="3.20" fill="#ff0000"/>
<rect x="72.80" y="445.90" width="3.20" height="3.20" fill="#ff0000"/>
<rect x="78.60" y="445.20" width="3.20" height="3.20" fill="#ff0000"/>
<rect x="67.20" y="447.90" width="3.20" height="3.20" fill="#ff0000"/>
<rect x="78.40" y="449.80" width="3.20" height="3.20" fill="#ff0000"/>
<rect x="72.80" y="451.10" width="3.20" height="3.20" fill="#ff0000"/>
<rect x="72.80" y="462.80" width="3.20" height="3.20" fill="#ff0000"/>
<line x1="96.50" y1="438.60" x2="96.50" y2="463.40" stroke="#22c322" stroke-width="1.0" opacity="0.8"/>
<line x1="92.90" y1="438.60" x2="100.10" y2="438.60" stroke="#22c322" stroke-width="1.0" opacity="0.8"/>
<line x1="92.90" y1="463.40" x2="100.10" y2="463.40" stroke="#22c322" stroke-width="1.0" opacity="0.6"/>
<path d="M96.40,430.50 L98.30,433.82 L94.50,433.82 Z" fill="#22c322"/>
<path d="M96.40,440.70 L98.30,444.03 L94.50,444.03 Z" fill="#22c322"/>
<path d="M93.20,445.60 L95.10,448.93 L91.30,448.93 Z" fill="#22c322"/>
<path d="M99.90,448.20 L101.80,451.53 L98.00,451.53 Z" fill="#22c322"/>
<path d="M93.20,450.60 L95.10,453.93 L91.30,453.93 Z" fill="#22c322"/>
<path d="M93.20,466.10 L95.10,469.43 L91.30,469.43 Z" fill="#22c322"/>
<path d="M99.90,464.60 L101.80,467.93 L98.00,467.93 Z" fill="#22c322"/>
<line x1="37.50" y1="410.30" x2="37.50" y2="521.50" stroke="#141414" stroke-width="1.4" />
<line x1="33.00" y1="521.50" x2="37.50" y2="521.50" stroke="#141414" stroke-width="1.4" />
<text x="31.40" y="524.95" font-family="Liberation Sans" font-size="8.2" font-weight="bold" text-anchor="end" fill="#111" stroke="#111" stroke-width="0.2" textLength="4.1" lengthAdjust="spacingAndGlyphs" >0</text>
<line x1="33.00" y1="484.53" x2="37.50" y2="484.53" stroke="#141414" stroke-width="1.4" />
<text x="31.40" y="487.99" font-family="Liberation Sans" font-size="8.2" font-weight="bold" text-anchor="end" fill="#111" stroke="#111" stroke-width="0.2" textLength="12.31" lengthAdjust="spacingAndGlyphs" >500</text>
<line x1="33.00" y1="447.57" x2="37.50" y2="447.57" stroke="#141414" stroke-width="1.4" />
<text x="31.40" y="451.02" font-family="Liberation Sans" font-size="8.2" font-weight="bold" text-anchor="end" fill="#111" stroke="#111" stroke-width="0.2" textLength="16.41" lengthAdjust="spacingAndGlyphs" >1000</text>
<line x1="33.00" y1="410.60" x2="37.50" y2="410.60" stroke="#141414" stroke-width="1.4" />
<text x="31.40" y="414.05" font-family="Liberation Sans" font-size="8.2" font-weight="bold" text-anchor="end" fill="#111" stroke="#111" stroke-width="0.2" textLength="16.41" lengthAdjust="spacingAndGlyphs" >1500</text>
<line x1="35.30" y1="503.02" x2="37.50" y2="503.02" stroke="#141414" stroke-width="1.4" />
<line x1="35.30" y1="466.05" x2="37.50" y2="466.05" stroke="#141414" stroke-width="1.4" />
<line x1="35.30" y1="429.08" x2="37.50" y2="429.08" stroke="#141414" stroke-width="1.4" />
<line x1="33.00" y1="521.50" x2="111.60" y2="521.50" stroke="#141414" stroke-width="1.4" />
<line x1="52.30" y1="521.50" x2="52.30" y2="525.70" stroke="#141414" stroke-width="1.4" />
<line x1="74.50" y1="521.50" x2="74.50" y2="525.70" stroke="#141414" stroke-width="1.4" />
<line x1="96.50" y1="521.50" x2="96.50" y2="525.70" stroke="#141414" stroke-width="1.4" />
<text x="52.15" y="534.50" font-family="Liberation Sans" font-size="7.5" font-weight="bold" text-anchor="middle" fill="#111" stroke="#111" stroke-width="0.25" textLength="10.1" lengthAdjust="spacingAndGlyphs" >HF</text>
<text x="74.50" y="534.50" font-family="Liberation Sans" font-size="7.5" font-weight="bold" text-anchor="middle" fill="#111" stroke="#111" stroke-width="0.25" textLength="15.4" lengthAdjust="spacingAndGlyphs" >HFR</text>
<text x="96.85" y="534.50" font-family="Liberation Sans" font-size="7.5" font-weight="bold" text-anchor="middle" fill="#111" stroke="#111" stroke-width="0.25" textLength="20.7" lengthAdjust="spacingAndGlyphs" >HFRV</text>
<text x="74.20" y="564.85" font-family="Liberation Sans" font-size="18.7" font-weight="normal" text-anchor="start" fill="#000" >J</text>
<rect x="187.22" y="496.02" width="12.15" height="26.65" fill="#8080ff" stroke="#0000ff" stroke-width="1.25"/>
<rect x="207.62" y="482.62" width="11.75" height="40.05" fill="#ff8080" stroke="#ff0000" stroke-width="1.25"/>
<rect x="227.62" y="518.02" width="12.35" height="4.65" fill="#80dc80" stroke="#22c322" stroke-width="1.25"/>
<line x1="193.30" y1="467.60" x2="193.30" y2="495.40" stroke="#0000ff" stroke-width="1.0" opacity="0.5"/>
<line x1="189.70" y1="467.60" x2="196.90" y2="467.60" stroke="#0000ff" stroke-width="1.0" opacity="0.5"/>
<circle cx="193.00" cy="444.60" r="1.85" fill="#0000ff"/>
<circle cx="193.00" cy="471.40" r="1.85" fill="#0000ff"/>
<circle cx="193.40" cy="496.40" r="1.85" fill="#0000ff"/>
<circle cx="191.40" cy="511.60" r="1.85" fill="#0000ff"/>
<circle cx="188.00" cy="514.00" r="1.85" fill="#0000ff"/>
<circle cx="195.00" cy="514.00" r="1.85" fill="#0000ff"/>
<circle cx="198.00" cy="512.40" r="1.85" fill="#0000ff"/>
<line x1="213.50" y1="452.40" x2="213.50" y2="482.00" stroke="#ff0000" stroke-width="1.0" opacity="0.55"/>
<line x1="209.90" y1="452.40" x2="217.10" y2="452.40" stroke="#ff0000" stroke-width="1.0" opacity="0.55"/>
<rect x="211.80" y="427.80" width="3.20" height="3.20" fill="#ff0000"/>
<rect x="208.80" y="467.80" width="3.20" height="3.20" fill="#ff0000"/>
<rect x="215.00" y="466.00" width="3.20" height="3.20" fill="#ff0000"/>
<rect x="211.80" y="481.00" width="3.20" height="3.20" fill="#ff0000"/>
<rect x="211.80" y="496.80" width="3.20" height="3.20" fill="#ff0000"/>
<rect x="211.80" y="506.40" width="3.20" height="3.20" fill="#ff0000"/>
<rect x="211.80" y="513.40" width="3.20" height="3.20" fill="#ff0000"/>
<line x1="233.80" y1="515.00" x2="233.80" y2="517.40" stroke="#22c322" stroke-width="1.0" opacity="0.8"/>
<line x1="230.20" y1="515.00" x2="237.40" y2="515.00" stroke="#22c322" stroke-width="1.0" opacity="0.8"/>
<path d="M228.40,515.10 L230.30,518.42 L226.50,518.42 Z" fill="#22c322"/>
<path d="M239.20,513.60 L241.10,516.92 L237.30,516.92 Z" fill="#22c322"/>
<path d="M231.50,517.60 L233.40,520.92 L229.60,520.92 Z" fill="#22c322"/>
<path d="M235.50,515.60 L237.40,518.92 L233.60,518.92 Z" fill="#22c322"/>
<path d="M235.00,518.60 L236.90,521.92 L233.10,521.92 Z" fill="#22c322"/>
<path d="M239.00,518.10 L240.90,521.42 L237.10,521.42 Z" fill="#22c322"/>
<line x1="179.40" y1="421.30" x2="179.40" y2="523.40" stroke="#141414" stroke-width="1.4" />
<line x1="174.90" y1="523.40" x2="179.40" y2="523.40" stroke="#141414" stroke-width="1.4" />
<text x="174.20" y="526.85" font-family="Liberation Sans" font-size="8.2" font-weight="bold" text-anchor="end" fill="#111" stroke="#111" stroke-width="0.2" textLength="4.1" lengthAdjust="spacingAndGlyphs" >0</text>
<line x1="174.90" y1="489.60" x2="179.40" y2="489.60" stroke="#141414" stroke-width="1.4" />
<text x="174.20" y="493.05" font-family="Liberation Sans" font-size="8.2" font-weight="bold" text-anchor="end" fill="#111" stroke="#111" stroke-width="0.2" textLength="12.31" lengthAdjust="spacingAndGlyphs" >200</text>
<line x1="174.90" y1="455.80" x2="179.40" y2="455.80" stroke="#141414" stroke-width="1.4" />
<text x="174.20" y="459.25" font-family="Liberation Sans" font-size="8.2" font-weight="bold" text-anchor="end" fill="#111" stroke="#111" stroke-width="0.2" textLength="12.31" lengthAdjust="spacingAndGlyphs" >400</text>
<line x1="174.90" y1="422.00" x2="179.40" y2="422.00" stroke="#141414" stroke-width="1.4" />
<text x="174.20" y="425.45" font-family="Liberation Sans" font-size="8.2" font-weight="bold" text-anchor="end" fill="#111" stroke="#111" stroke-width="0.2" textLength="12.31" lengthAdjust="spacingAndGlyphs" >600</text>
<line x1="177.20" y1="506.50" x2="179.40" y2="506.50" stroke="#141414" stroke-width="1.4" />
<line x1="177.20" y1="472.70" x2="179.40" y2="472.70" stroke="#141414" stroke-width="1.4" />
<line x1="177.20" y1="438.90" x2="179.40" y2="438.90" stroke="#141414" stroke-width="1.4" />
<line x1="174.90" y1="523.40" x2="247.80" y2="523.40" stroke="#141414" stroke-width="1.4" />
<line x1="193.30" y1="523.40" x2="193.30" y2="527.60" stroke="#141414" stroke-width="1.4" />
<line x1="213.50" y1="523.40" x2="213.50" y2="527.60" stroke="#141414" stroke-width="1.4" />
<line x1="233.80" y1="523.40" x2="233.80" y2="527.60" stroke="#141414" stroke-width="1.4" />
<text x="193.40" y="535.60" font-family="Liberation Sans" font-size="7.64" font-weight="bold" text-anchor="middle" fill="#111" stroke="#111" stroke-width="0.25" textLength="9.4" lengthAdjust="spacingAndGlyphs" >HF</text>
<text x="213.65" y="535.60" font-family="Liberation Sans" font-size="7.64" font-weight="bold" text-anchor="middle" fill="#111" stroke="#111" stroke-width="0.25" textLength="14.9" lengthAdjust="spacingAndGlyphs" >HFR</text>
<text x="234.10" y="535.60" font-family="Liberation Sans" font-size="7.64" font-weight="bold" text-anchor="middle" fill="#111" stroke="#111" stroke-width="0.25" textLength="19.6" lengthAdjust="spacingAndGlyphs" >HFRV</text>
<path d="M213.40,422.60 V417.50 H234.00 V509.00" fill="none" stroke="#5a5a5a" stroke-width="1.0"/>
<circle cx="223.10" cy="412.10" r="0.95" fill="#2a2a2a"/>
<text x="208.40" y="564.65" font-family="Liberation Sans" font-size="18.7" font-weight="normal" text-anchor="start" fill="#000" >K</text>
<rect x="322.62" y="453.62" width="13.75" height="67.45" fill="#8080ff" stroke="#0000ff" stroke-width="1.25"/>
<rect x="345.62" y="462.62" width="13.75" height="58.45" fill="#ff8080" stroke="#ff0000" stroke-width="1.25"/>
<rect x="368.62" y="468.62" width="13.75" height="52.45" fill="#80dc80" stroke="#22c322" stroke-width="1.25"/>
<line x1="329.50" y1="438.40" x2="329.50" y2="467.20" stroke="#0000ff" stroke-width="1.0" opacity="0.8"/>
<line x1="325.90" y1="438.40" x2="333.10" y2="438.40" stroke="#0000ff" stroke-width="1.0" opacity="0.8"/>
<line x1="325.90" y1="467.20" x2="333.10" y2="467.20" stroke="#0000ff" stroke-width="1.0" opacity="0.6"/>
<circle cx="329.40" cy="427.00" r="1.85" fill="#0000ff"/>
<circle cx="326.00" cy="447.00" r="1.85" fill="#0000ff"/>
<circle cx="333.00" cy="444.00" r="1.85" fill="#0000ff"/>
<circle cx="326.00" cy="459.60" r="1.85" fill="#0000ff"/>
<circle cx="333.00" cy="456.60" r="1.85" fill="#0000ff"/>
<circle cx="326.00" cy="467.40" r="1.85" fill="#0000ff"/>
<circle cx="333.00" cy="467.00" r="1.85" fill="#0000ff"/>
<line x1="352.50" y1="451.40" x2="352.50" y2="472.60" stroke="#ff0000" stroke-width="1.0" opacity="0.8"/>
<line x1="348.90" y1="451.40" x2="356.10" y2="451.40" stroke="#ff0000" stroke-width="1.0" opacity="0.8"/>
<line x1="348.90" y1="472.60" x2="356.10" y2="472.60" stroke="#ff0000" stroke-width="1.0" opacity="0.6"/>
<rect x="344.80" y="446.00" width="3.20" height="3.20" fill="#ff0000"/>
<rect x="350.80" y="447.80" width="3.20" height="3.20" fill="#ff0000"/>
<rect x="344.80" y="458.00" width="3.20" height="3.20" fill="#ff0000"/>
<rect x="350.80" y="461.40" width="3.20" height="3.20" fill="#ff0000"/>
<rect x="350.80" y="467.80" width="3.20" height="3.20" fill="#ff0000"/>
<rect x="344.80" y="471.40" width="3.20" height="3.20" fill="#ff0000"/>
<rect x="356.40" y="469.80" width="3.20" height="3.20" fill="#ff0000"/>
<line x1="375.50" y1="461.00" x2="375.50" y2="474.40" stroke="#22c322" stroke-width="1.0" opacity="0.8"/>
<line x1="371.90" y1="461.00" x2="379.10" y2="461.00" stroke="#22c322" stroke-width="1.0" opacity="0.8"/>
<line x1="371.90" y1="474.40" x2="379.10" y2="474.40" stroke="#22c322" stroke-width="1.0" opacity="0.6"/>
<path d="M375.40,456.70 L377.30,460.03 L373.50,460.03 Z" fill="#22c322"/>
<path d="M381.40,461.70 L383.30,465.03 L379.50,465.03 Z" fill="#22c322"/>
<path d="M370.00,466.10 L371.90,469.43 L368.10,469.43 Z" fill="#22c322"/>
<path d="M381.40,467.10 L383.30,470.43 L379.50,470.43 Z" fill="#22c322"/>
<path d="M375.40,470.50 L377.30,473.82 L373.50,473.82 Z" fill="#22c322"/>
<path d="M375.40,477.10 L377.30,480.43 L373.50,480.43 Z" fill="#22c322"/>
<line x1="314.40" y1="406.70" x2="314.40" y2="521.80" stroke="#141414" stroke-width="1.4" />
<line x1="309.90" y1="521.80" x2="314.40" y2="521.80" stroke="#141414" stroke-width="1.4" />
<text x="308.40" y="525.25" font-family="Liberation Sans" font-size="8.2" font-weight="bold" text-anchor="end" fill="#111" stroke="#111" stroke-width="0.2" textLength="4.1" lengthAdjust="spacingAndGlyphs" >0</text>
<line x1="309.90" y1="483.67" x2="314.40" y2="483.67" stroke="#141414" stroke-width="1.4" />
<text x="308.40" y="487.12" font-family="Liberation Sans" font-size="8.2" font-weight="bold" text-anchor="end" fill="#111" stroke="#111" stroke-width="0.2" textLength="16.41" lengthAdjust="spacingAndGlyphs" >1000</text>
<line x1="309.90" y1="445.53" x2="314.40" y2="445.53" stroke="#141414" stroke-width="1.4" />
<text x="308.40" y="448.99" font-family="Liberation Sans" font-size="8.2" font-weight="bold" text-anchor="end" fill="#111" stroke="#111" stroke-width="0.2" textLength="16.41" lengthAdjust="spacingAndGlyphs" >2000</text>
<line x1="309.90" y1="407.40" x2="314.40" y2="407.40" stroke="#141414" stroke-width="1.4" />
<text x="308.40" y="410.85" font-family="Liberation Sans" font-size="8.2" font-weight="bold" text-anchor="end" fill="#111" stroke="#111" stroke-width="0.2" textLength="16.41" lengthAdjust="spacingAndGlyphs" >3000</text>
<line x1="312.20" y1="502.73" x2="314.40" y2="502.73" stroke="#141414" stroke-width="1.4" />
<line x1="312.20" y1="464.60" x2="314.40" y2="464.60" stroke="#141414" stroke-width="1.4" />
<line x1="312.20" y1="426.47" x2="314.40" y2="426.47" stroke="#141414" stroke-width="1.4" />
<line x1="309.90" y1="521.80" x2="390.80" y2="521.80" stroke="#141414" stroke-width="1.4" />
<line x1="329.50" y1="521.80" x2="329.50" y2="526.00" stroke="#141414" stroke-width="1.4" />
<line x1="352.50" y1="521.80" x2="352.50" y2="526.00" stroke="#141414" stroke-width="1.4" />
<line x1="375.50" y1="521.80" x2="375.50" y2="526.00" stroke="#141414" stroke-width="1.4" />
<text x="329.80" y="535.90" font-family="Liberation Sans" font-size="8.63" font-weight="bold" text-anchor="middle" fill="#111" stroke="#111" stroke-width="0.25" textLength="11.0" lengthAdjust="spacingAndGlyphs" >HF</text>
<text x="352.65" y="535.90" font-family="Liberation Sans" font-size="8.63" font-weight="bold" text-anchor="middle" fill="#111" stroke="#111" stroke-width="0.25" textLength="16.3" lengthAdjust="spacingAndGlyphs" >HFR</text>
<text x="375.60" y="535.90" font-family="Liberation Sans" font-size="8.63" font-weight="bold" text-anchor="middle" fill="#111" stroke="#111" stroke-width="0.25" textLength="21.6" lengthAdjust="spacingAndGlyphs" >HFRV</text>
<path d="M329.40,420.00 V413.50 H375.40 V452.00" fill="none" stroke="#5a5a5a" stroke-width="1.0"/>
<circle cx="351.70" cy="407.70" r="0.95" fill="#2a2a2a"/>
<text x="348.00" y="564.65" font-family="Liberation Sans" font-size="18.7" font-weight="normal" text-anchor="start" fill="#000" >L</text>
<rect x="481.23" y="441.62" width="14.15" height="78.85" fill="#8080ff" stroke="#0000ff" stroke-width="1.25"/>
<rect x="504.02" y="457.23" width="13.95" height="63.25" fill="#ff8080" stroke="#ff0000" stroke-width="1.25"/>
<rect x="526.62" y="460.02" width="13.75" height="60.45" fill="#80dc80" stroke="#22c322" stroke-width="1.25"/>
<line x1="488.30" y1="427.60" x2="488.30" y2="453.60" stroke="#0000ff" stroke-width="1.0" opacity="0.8"/>
<line x1="484.70" y1="427.60" x2="491.90" y2="427.60" stroke="#0000ff" stroke-width="1.0" opacity="0.8"/>
<line x1="484.70" y1="453.60" x2="491.90" y2="453.60" stroke="#0000ff" stroke-width="1.0" opacity="0.6"/>
<circle cx="484.60" cy="422.60" r="1.85" fill="#0000ff"/>
<circle cx="491.40" cy="426.00" r="1.85" fill="#0000ff"/>
<circle cx="488.20" cy="437.30" r="1.85" fill="#0000ff"/>
<circle cx="488.20" cy="441.60" r="1.85" fill="#0000ff"/>
<circle cx="488.20" cy="446.60" r="1.85" fill="#0000ff"/>
<circle cx="488.20" cy="453.20" r="1.85" fill="#0000ff"/>
<circle cx="488.20" cy="457.90" r="1.85" fill="#0000ff"/>
<line x1="511.00" y1="443.40" x2="511.00" y2="469.00" stroke="#ff0000" stroke-width="1.0" opacity="0.8"/>
<line x1="507.40" y1="443.40" x2="514.60" y2="443.40" stroke="#ff0000" stroke-width="1.0" opacity="0.8"/>
<line x1="507.40" y1="469.00" x2="514.60" y2="469.00" stroke="#ff0000" stroke-width="1.0" opacity="0.6"/>
<rect x="509.40" y="432.80" width="3.20" height="3.20" fill="#ff0000"/>
<rect x="509.40" y="446.40" width="3.20" height="3.20" fill="#ff0000"/>
<rect x="509.40" y="450.80" width="3.20" height="3.20" fill="#ff0000"/>
<rect x="509.40" y="455.40" width="3.20" height="3.20" fill="#ff0000"/>
<rect x="506.40" y="462.80" width="3.20" height="3.20" fill="#ff0000"/>
<rect x="512.80" y="464.40" width="3.20" height="3.20" fill="#ff0000"/>
<rect x="509.40" y="471.40" width="3.20" height="3.20" fill="#ff0000"/>
<line x1="533.50" y1="449.40" x2="533.50" y2="468.00" stroke="#22c322" stroke-width="1.0" opacity="0.8"/>
<line x1="529.90" y1="449.40" x2="537.10" y2="449.40" stroke="#22c322" stroke-width="1.0" opacity="0.8"/>
<line x1="529.90" y1="468.00" x2="537.10" y2="468.00" stroke="#22c322" stroke-width="1.0" opacity="0.6"/>
<path d="M533.60,442.70 L535.50,446.03 L531.70,446.03 Z" fill="#22c322"/>
<path d="M530.40,452.10 L532.30,455.43 L528.50,455.43 Z" fill="#22c322"/>
<path d="M537.00,452.10 L538.90,455.43 L535.10,455.43 Z" fill="#22c322"/>
<path d="M533.60,458.10 L535.50,461.43 L531.70,461.43 Z" fill="#22c322"/>
<path d="M533.60,462.10 L535.50,465.43 L531.70,465.43 Z" fill="#22c322"/>
<path d="M530.40,469.10 L532.30,472.43 L528.50,472.43 Z" fill="#22c322"/>
<path d="M537.00,466.10 L538.90,469.43 L535.10,469.43 Z" fill="#22c322"/>
<line x1="473.60" y1="406.70" x2="473.60" y2="521.20" stroke="#141414" stroke-width="1.4" />
<line x1="469.10" y1="521.20" x2="473.60" y2="521.20" stroke="#141414" stroke-width="1.4" />
<text x="468.20" y="524.65" font-family="Liberation Sans" font-size="8.2" font-weight="bold" text-anchor="end" fill="#111" stroke="#111" stroke-width="0.2" textLength="4.1" lengthAdjust="spacingAndGlyphs" >0</text>
<line x1="469.10" y1="498.44" x2="473.60" y2="498.44" stroke="#141414" stroke-width="1.4" />
<text x="468.20" y="501.89" font-family="Liberation Sans" font-size="8.2" font-weight="bold" text-anchor="end" fill="#111" stroke="#111" stroke-width="0.2" textLength="4.1" lengthAdjust="spacingAndGlyphs" >5</text>
<line x1="469.10" y1="475.68" x2="473.60" y2="475.68" stroke="#141414" stroke-width="1.4" />
<text x="468.20" y="479.13" font-family="Liberation Sans" font-size="8.2" font-weight="bold" text-anchor="end" fill="#111" stroke="#111" stroke-width="0.2" textLength="8.21" lengthAdjust="spacingAndGlyphs" >10</text>
<line x1="469.10" y1="452.92" x2="473.60" y2="452.92" stroke="#141414" stroke-width="1.4" />
<text x="468.20" y="456.37" font-family="Liberation Sans" font-size="8.2" font-weight="bold" text-anchor="end" fill="#111" stroke="#111" stroke-width="0.2" textLength="8.21" lengthAdjust="spacingAndGlyphs" >15</text>
<line x1="469.10" y1="430.16" x2="473.60" y2="430.16" stroke="#141414" stroke-width="1.4" />
<text x="468.20" y="433.61" font-family="Liberation Sans" font-size="8.2" font-weight="bold" text-anchor="end" fill="#111" stroke="#111" stroke-width="0.2" textLength="8.21" lengthAdjust="spacingAndGlyphs" >20</text>
<line x1="469.10" y1="407.40" x2="473.60" y2="407.40" stroke="#141414" stroke-width="1.4" />
<text x="468.20" y="410.85" font-family="Liberation Sans" font-size="8.2" font-weight="bold" text-anchor="end" fill="#111" stroke="#111" stroke-width="0.2" textLength="8.21" lengthAdjust="spacingAndGlyphs" >25</text>
<line x1="471.40" y1="509.82" x2="473.60" y2="509.82" stroke="#141414" stroke-width="1.4" />
<line x1="471.40" y1="487.06" x2="473.60" y2="487.06" stroke="#141414" stroke-width="1.4" />
<line x1="471.40" y1="464.30" x2="473.60" y2="464.30" stroke="#141414" stroke-width="1.4" />
<line x1="471.40" y1="441.54" x2="473.60" y2="441.54" stroke="#141414" stroke-width="1.4" />
<line x1="471.40" y1="418.78" x2="473.60" y2="418.78" stroke="#141414" stroke-width="1.4" />
<line x1="469.10" y1="521.20" x2="548.40" y2="521.20" stroke="#141414" stroke-width="1.4" />
<line x1="488.30" y1="521.20" x2="488.30" y2="525.40" stroke="#141414" stroke-width="1.4" />
<line x1="511.00" y1="521.20" x2="511.00" y2="525.40" stroke="#141414" stroke-width="1.4" />
<line x1="533.50" y1="521.20" x2="533.50" y2="525.40" stroke="#141414" stroke-width="1.4" />
<text x="488.40" y="534.60" font-family="Liberation Sans" font-size="8.21" font-weight="bold" text-anchor="middle" fill="#111" stroke="#111" stroke-width="0.25" textLength="10.6" lengthAdjust="spacingAndGlyphs" >HF</text>
<text x="511.15" y="534.60" font-family="Liberation Sans" font-size="8.21" font-weight="bold" text-anchor="middle" fill="#111" stroke="#111" stroke-width="0.25" textLength="16.7" lengthAdjust="spacingAndGlyphs" >HFR</text>
<text x="533.75" y="534.60" font-family="Liberation Sans" font-size="8.21" font-weight="bold" text-anchor="middle" fill="#111" stroke="#111" stroke-width="0.25" textLength="21.1" lengthAdjust="spacingAndGlyphs" >HFRV</text>
<text x="496.40" y="563.65" font-family="Liberation Sans" font-size="18.7" font-weight="normal" text-anchor="start" fill="#000" >M</text>
<rect x="616.23" y="451.62" width="13.75" height="72.15" fill="#8080ff" stroke="#0000ff" stroke-width="1.25"/>
<rect x="639.02" y="464.02" width="13.95" height="59.75" fill="#ff8080" stroke="#ff0000" stroke-width="1.25"/>
<rect x="662.02" y="468.62" width="13.75" height="55.15" fill="#80dc80" stroke="#22c322" stroke-width="1.25"/>
<line x1="623.10" y1="433.60" x2="623.10" y2="468.00" stroke="#0000ff" stroke-width="1.0" opacity="0.8"/>
<line x1="619.50" y1="433.60" x2="626.70" y2="433.60" stroke="#0000ff" stroke-width="1.0" opacity="0.8"/>
<line x1="619.50" y1="468.00" x2="626.70" y2="468.00" stroke="#0000ff" stroke-width="1.0" opacity="0.6"/>
<circle cx="623.40" cy="428.40" r="1.85" fill="#0000ff"/>
<circle cx="623.40" cy="434.00" r="1.85" fill="#0000ff"/>
<circle cx="623.40" cy="441.40" r="1.85" fill="#0000ff"/>
<circle cx="623.40" cy="450.40" r="1.85" fill="#0000ff"/>
<circle cx="623.40" cy="456.40" r="1.85" fill="#0000ff"/>
<circle cx="623.40" cy="468.00" r="1.85" fill="#0000ff"/>
<circle cx="623.40" cy="475.00" r="1.85" fill="#0000ff"/>
<line x1="646.00" y1="452.00" x2="646.00" y2="473.60" stroke="#ff0000" stroke-width="1.0" opacity="0.8"/>
<line x1="642.40" y1="452.00" x2="649.60" y2="452.00" stroke="#ff0000" stroke-width="1.0" opacity="0.8"/>
<line x1="642.40" y1="473.60" x2="649.60" y2="473.60" stroke="#ff0000" stroke-width="1.0" opacity="0.6"/>
<rect x="644.40" y="446.00" width="3.20" height="3.20" fill="#ff0000"/>
<rect x="641.00" y="455.40" width="3.20" height="3.20" fill="#ff0000"/>
<rect x="647.80" y="454.80" width="3.20" height="3.20" fill="#ff0000"/>
<rect x="644.40" y="459.40" width="3.20" height="3.20" fill="#ff0000"/>
<rect x="644.40" y="462.40" width="3.20" height="3.20" fill="#ff0000"/>
<rect x="644.40" y="466.40" width="3.20" height="3.20" fill="#ff0000"/>
<rect x="644.40" y="480.80" width="3.20" height="3.20" fill="#ff0000"/>
<line x1="668.90" y1="453.40" x2="668.90" y2="482.40" stroke="#22c322" stroke-width="1.0" opacity="0.8"/>
<line x1="665.30" y1="453.40" x2="672.50" y2="453.40" stroke="#22c322" stroke-width="1.0" opacity="0.8"/>
<line x1="665.30" y1="482.40" x2="672.50" y2="482.40" stroke="#22c322" stroke-width="1.0" opacity="0.6"/>
<path d="M669.00,445.10 L670.90,448.43 L667.10,448.43 Z" fill="#22c322"/>
<path d="M669.00,459.50 L670.90,462.82 L667.10,462.82 Z" fill="#22c322"/>
<path d="M666.00,471.50 L667.90,474.82 L664.10,474.82 Z" fill="#22c322"/>
<path d="M672.40,471.50 L674.30,474.82 L670.50,474.82 Z" fill="#22c322"/>
<path d="M669.00,477.50 L670.90,480.82 L667.10,480.82 Z" fill="#22c322"/>
<path d="M669.00,486.10 L670.90,489.43 L667.10,489.43 Z" fill="#22c322"/>
<line x1="608.00" y1="409.90" x2="608.00" y2="524.50" stroke="#141414" stroke-width="1.4" />
<line x1="603.50" y1="524.50" x2="608.00" y2="524.50" stroke="#141414" stroke-width="1.4" />
<text x="602.40" y="527.95" font-family="Liberation Sans" font-size="8.2" font-weight="bold" text-anchor="end" fill="#111" stroke="#111" stroke-width="0.2" textLength="4.1" lengthAdjust="spacingAndGlyphs" >0</text>
<line x1="603.50" y1="496.02" x2="608.00" y2="496.02" stroke="#141414" stroke-width="1.4" />
<text x="602.40" y="499.48" font-family="Liberation Sans" font-size="8.2" font-weight="bold" text-anchor="end" fill="#111" stroke="#111" stroke-width="0.2" textLength="8.21" lengthAdjust="spacingAndGlyphs" >10</text>
<line x1="603.50" y1="467.55" x2="608.00" y2="467.55" stroke="#141414" stroke-width="1.4" />
<text x="602.40" y="471.00" font-family="Liberation Sans" font-size="8.2" font-weight="bold" text-anchor="end" fill="#111" stroke="#111" stroke-width="0.2" textLength="8.21" lengthAdjust="spacingAndGlyphs" >20</text>
<line x1="603.50" y1="439.08" x2="608.00" y2="439.08" stroke="#141414" stroke-width="1.4" />
<text x="602.40" y="442.53" font-family="Liberation Sans" font-size="8.2" font-weight="bold" text-anchor="end" fill="#111" stroke="#111" stroke-width="0.2" textLength="8.21" lengthAdjust="spacingAndGlyphs" >30</text>
<line x1="603.50" y1="410.60" x2="608.00" y2="410.60" stroke="#141414" stroke-width="1.4" />
<text x="602.40" y="414.05" font-family="Liberation Sans" font-size="8.2" font-weight="bold" text-anchor="end" fill="#111" stroke="#111" stroke-width="0.2" textLength="8.21" lengthAdjust="spacingAndGlyphs" >40</text>
<line x1="605.80" y1="510.26" x2="608.00" y2="510.26" stroke="#141414" stroke-width="1.4" />
<line x1="605.80" y1="481.79" x2="608.00" y2="481.79" stroke="#141414" stroke-width="1.4" />
<line x1="605.80" y1="453.31" x2="608.00" y2="453.31" stroke="#141414" stroke-width="1.4" />
<line x1="605.80" y1="424.84" x2="608.00" y2="424.84" stroke="#141414" stroke-width="1.4" />
<line x1="603.50" y1="524.50" x2="686.00" y2="524.50" stroke="#141414" stroke-width="1.4" />
<line x1="623.10" y1="524.50" x2="623.10" y2="528.70" stroke="#141414" stroke-width="1.4" />
<line x1="646.00" y1="524.50" x2="646.00" y2="528.70" stroke="#141414" stroke-width="1.4" />
<line x1="668.90" y1="524.50" x2="668.90" y2="528.70" stroke="#141414" stroke-width="1.4" />
<text x="623.15" y="537.80" font-family="Liberation Sans" font-size="7.78" font-weight="bold" text-anchor="middle" fill="#111" stroke="#111" stroke-width="0.25" textLength="10.5" lengthAdjust="spacingAndGlyphs" >HF</text>
<text x="646.55" y="537.80" font-family="Liberation Sans" font-size="7.78" font-weight="bold" text-anchor="middle" fill="#111" stroke="#111" stroke-width="0.25" textLength="16.3" lengthAdjust="spacingAndGlyphs" >HFR</text>
<text x="669.10" y="537.80" font-family="Liberation Sans" font-size="7.78" font-weight="bold" text-anchor="middle" fill="#111" stroke="#111" stroke-width="0.25" textLength="21.4" lengthAdjust="spacingAndGlyphs" >HFRV</text>
<text x="633.00" y="569.05" font-family="Liberation Sans" font-size="18.7" font-weight="normal" text-anchor="start" fill="#000" >N</text>
<rect x="46.62" y="630.02" width="12.35" height="68.25" fill="#8080ff" stroke="#0000ff" stroke-width="1.25"/>
<rect x="67.62" y="639.23" width="12.75" height="59.05" fill="#ff8080" stroke="#ff0000" stroke-width="1.25"/>
<rect x="89.03" y="643.02" width="12.75" height="55.25" fill="#80dc80" stroke="#22c322" stroke-width="1.25"/>
<line x1="52.80" y1="614.40" x2="52.80" y2="644.40" stroke="#0000ff" stroke-width="1.0" opacity="0.8"/>
<line x1="49.20" y1="614.40" x2="56.40" y2="614.40" stroke="#0000ff" stroke-width="1.0" opacity="0.8"/>
<line x1="49.20" y1="644.40" x2="56.40" y2="644.40" stroke="#0000ff" stroke-width="1.0" opacity="0.6"/>
<circle cx="53.00" cy="606.40" r="1.85" fill="#0000ff"/>
<circle cx="49.40" cy="620.40" r="1.85" fill="#0000ff"/>
<circle cx="56.40" cy="618.00" r="1.85" fill="#0000ff"/>
<circle cx="53.00" cy="629.00" r="1.85" fill="#0000ff"/>
<circle cx="49.40" cy="641.00" r="1.85" fill="#0000ff"/>
<circle cx="56.40" cy="642.40" r="1.85" fill="#0000ff"/>
<circle cx="53.00" cy="647.40" r="1.85" fill="#0000ff"/>
<line x1="74.00" y1="632.00" x2="74.00" y2="645.00" stroke="#ff0000" stroke-width="1.0" opacity="0.8"/>
<line x1="70.40" y1="632.00" x2="77.60" y2="632.00" stroke="#ff0000" stroke-width="1.0" opacity="0.8"/>
<line x1="70.40" y1="645.00" x2="77.60" y2="645.00" stroke="#ff0000" stroke-width="1.0" opacity="0.6"/>
<rect x="72.50" y="626.70" width="3.20" height="3.20" fill="#ff0000"/>
<rect x="75.80" y="631.40" width="3.20" height="3.20" fill="#ff0000"/>
<rect x="69.20" y="633.80" width="3.20" height="3.20" fill="#ff0000"/>
<rect x="69.20" y="638.30" width="3.20" height="3.20" fill="#ff0000"/>
<rect x="75.80" y="637.40" width="3.20" height="3.20" fill="#ff0000"/>
<rect x="69.20" y="646.10" width="3.20" height="3.20" fill="#ff0000"/>
<rect x="75.80" y="644.20" width="3.20" height="3.20" fill="#ff0000"/>
<line x1="95.40" y1="638.40" x2="95.40" y2="647.00" stroke="#22c322" stroke-width="1.0" opacity="0.8"/>
<line x1="91.80" y1="638.40" x2="99.00" y2="638.40" stroke="#22c322" stroke-width="1.0" opacity="0.8"/>
<line x1="91.80" y1="647.00" x2="99.00" y2="647.00" stroke="#22c322" stroke-width="1.0" opacity="0.6"/>
<path d="M90.00,636.70 L91.90,640.02 L88.10,640.02 Z" fill="#22c322"/>
<path d="M97.00,637.10 L98.90,640.42 L95.10,640.42 Z" fill="#22c322"/>
<path d="M93.40,639.70 L95.30,643.02 L91.50,643.02 Z" fill="#22c322"/>
<path d="M101.00,639.70 L102.90,643.02 L99.10,643.02 Z" fill="#22c322"/>
<path d="M93.40,648.10 L95.30,651.42 L91.50,651.42 Z" fill="#22c322"/>
<path d="M97.00,645.10 L98.90,648.42 L95.10,648.42 Z" fill="#22c322"/>
<line x1="38.50" y1="591.90" x2="38.50" y2="699.00" stroke="#141414" stroke-width="1.4" />
<line x1="34.00" y1="699.00" x2="38.50" y2="699.00" stroke="#141414" stroke-width="1.4" />
<text x="33.00" y="702.45" font-family="Liberation Sans" font-size="8.2" font-weight="bold" text-anchor="end" fill="#111" stroke="#111" stroke-width="0.2" textLength="4.1" lengthAdjust="spacingAndGlyphs" >0</text>
<line x1="34.00" y1="677.72" x2="38.50" y2="677.72" stroke="#141414" stroke-width="1.4" />
<text x="33.00" y="681.17" font-family="Liberation Sans" font-size="8.2" font-weight="bold" text-anchor="end" fill="#111" stroke="#111" stroke-width="0.2" textLength="8.21" lengthAdjust="spacingAndGlyphs" >10</text>
<line x1="34.00" y1="656.44" x2="38.50" y2="656.44" stroke="#141414" stroke-width="1.4" />
<text x="33.00" y="659.89" font-family="Liberation Sans" font-size="8.2" font-weight="bold" text-anchor="end" fill="#111" stroke="#111" stroke-width="0.2" textLength="8.21" lengthAdjust="spacingAndGlyphs" >20</text>
<line x1="34.00" y1="635.16" x2="38.50" y2="635.16" stroke="#141414" stroke-width="1.4" />
<text x="33.00" y="638.61" font-family="Liberation Sans" font-size="8.2" font-weight="bold" text-anchor="end" fill="#111" stroke="#111" stroke-width="0.2" textLength="8.21" lengthAdjust="spacingAndGlyphs" >30</text>
<line x1="34.00" y1="613.88" x2="38.50" y2="613.88" stroke="#141414" stroke-width="1.4" />
<text x="33.00" y="617.33" font-family="Liberation Sans" font-size="8.2" font-weight="bold" text-anchor="end" fill="#111" stroke="#111" stroke-width="0.2" textLength="8.21" lengthAdjust="spacingAndGlyphs" >40</text>
<line x1="34.00" y1="592.60" x2="38.50" y2="592.60" stroke="#141414" stroke-width="1.4" />
<text x="33.00" y="596.05" font-family="Liberation Sans" font-size="8.2" font-weight="bold" text-anchor="end" fill="#111" stroke="#111" stroke-width="0.2" textLength="8.21" lengthAdjust="spacingAndGlyphs" >50</text>
<line x1="36.30" y1="688.36" x2="38.50" y2="688.36" stroke="#141414" stroke-width="1.4" />
<line x1="36.30" y1="667.08" x2="38.50" y2="667.08" stroke="#141414" stroke-width="1.4" />
<line x1="36.30" y1="645.80" x2="38.50" y2="645.80" stroke="#141414" stroke-width="1.4" />
<line x1="36.30" y1="624.52" x2="38.50" y2="624.52" stroke="#141414" stroke-width="1.4" />
<line x1="36.30" y1="603.24" x2="38.50" y2="603.24" stroke="#141414" stroke-width="1.4" />
<line x1="34.00" y1="699.00" x2="109.80" y2="699.00" stroke="#5a5a5a" stroke-width="1.7" />
<line x1="52.80" y1="699.00" x2="52.80" y2="703.20" stroke="#141414" stroke-width="1.4" />
<line x1="74.00" y1="699.00" x2="74.00" y2="703.20" stroke="#141414" stroke-width="1.4" />
<line x1="95.40" y1="699.00" x2="95.40" y2="703.20" stroke="#141414" stroke-width="1.4" />
<text x="52.70" y="711.90" font-family="Liberation Sans" font-size="8.63" font-weight="bold" text-anchor="middle" fill="#111" stroke="#111" stroke-width="0.25" textLength="10.2" lengthAdjust="spacingAndGlyphs" >HF</text>
<text x="74.50" y="711.90" font-family="Liberation Sans" font-size="8.63" font-weight="bold" text-anchor="middle" fill="#111" stroke="#111" stroke-width="0.25" textLength="16.0" lengthAdjust="spacingAndGlyphs" >HFR</text>
<text x="95.85" y="711.90" font-family="Liberation Sans" font-size="8.63" font-weight="bold" text-anchor="middle" fill="#111" stroke="#111" stroke-width="0.25" textLength="20.3" lengthAdjust="spacingAndGlyphs" >HFRV</text>
<text x="62.60" y="745.85" font-family="Liberation Sans" font-size="18.7" font-weight="normal" text-anchor="start" fill="#000" >O</text>
<rect x="188.62" y="634.62" width="13.75" height="68.65" fill="#8080ff" stroke="#0000ff" stroke-width="1.25"/>
<rect x="210.62" y="647.02" width="13.75" height="56.25" fill="#ff8080" stroke="#ff0000" stroke-width="1.25"/>
<rect x="232.62" y="649.02" width="13.75" height="54.25" fill="#80dc80" stroke="#22c322" stroke-width="1.25"/>
<line x1="195.50" y1="614.40" x2="195.50" y2="652.40" stroke="#0000ff" stroke-width="1.0" opacity="0.8"/>
<line x1="191.90" y1="614.40" x2="199.10" y2="614.40" stroke="#0000ff" stroke-width="1.0" opacity="0.8"/>
<line x1="191.90" y1="652.40" x2="199.10" y2="652.40" stroke="#0000ff" stroke-width="1.0" opacity="0.6"/>
<circle cx="195.40" cy="610.60" r="1.52" fill="#0000ff"/>
<circle cx="195.40" cy="617.40" r="1.52" fill="#0000ff"/>
<circle cx="195.40" cy="624.00" r="1.52" fill="#0000ff"/>
<circle cx="195.40" cy="628.00" r="1.52" fill="#0000ff"/>
<circle cx="195.40" cy="636.60" r="1.52" fill="#0000ff"/>
<circle cx="195.40" cy="656.00" r="1.52" fill="#0000ff"/>
<circle cx="195.40" cy="661.40" r="1.52" fill="#0000ff"/>
<line x1="217.50" y1="634.40" x2="217.50" y2="657.00" stroke="#ff0000" stroke-width="1.0" opacity="0.8"/>
<line x1="213.90" y1="634.40" x2="221.10" y2="634.40" stroke="#ff0000" stroke-width="1.0" opacity="0.8"/>
<line x1="213.90" y1="657.00" x2="221.10" y2="657.00" stroke="#ff0000" stroke-width="1.0" opacity="0.6"/>
<rect x="216.09" y="630.09" width="2.62" height="2.62" fill="#ff0000"/>
<rect x="213.09" y="635.29" width="2.62" height="2.62" fill="#ff0000"/>
<rect x="218.69" y="633.09" width="2.62" height="2.62" fill="#ff0000"/>
<rect x="216.09" y="646.09" width="2.62" height="2.62" fill="#ff0000"/>
<rect x="213.09" y="651.69" width="2.62" height="2.62" fill="#ff0000"/>
<rect x="218.69" y="654.09" width="2.62" height="2.62" fill="#ff0000"/>
<rect x="216.09" y="660.69" width="2.62" height="2.62" fill="#ff0000"/>
<line x1="239.50" y1="634.40" x2="239.50" y2="661.40" stroke="#22c322" stroke-width="1.0" opacity="0.8"/>
<line x1="235.90" y1="634.40" x2="243.10" y2="634.40" stroke="#22c322" stroke-width="1.0" opacity="0.8"/>
<line x1="235.90" y1="661.40" x2="243.10" y2="661.40" stroke="#22c322" stroke-width="1.0" opacity="0.6"/>
<path d="M239.40,619.44 L240.96,622.17 L237.84,622.17 Z" fill="#22c322"/>
<path d="M239.40,644.24 L240.96,646.97 L237.84,646.97 Z" fill="#22c322"/>
<path d="M233.30,649.74 L234.86,652.47 L231.74,652.47 Z" fill="#22c322"/>
<path d="M245.60,649.74 L247.16,652.47 L244.04,652.47 Z" fill="#22c322"/>
<path d="M239.40,652.44 L240.96,655.17 L237.84,655.17 Z" fill="#22c322"/>
<path d="M239.40,663.04 L240.96,665.77 L237.84,665.77 Z" fill="#22c322"/>
<line x1="180.40" y1="593.70" x2="180.40" y2="704.00" stroke="#444" stroke-width="1.0" />
<line x1="175.90" y1="704.00" x2="180.40" y2="704.00" stroke="#444" stroke-width="1.0" />
<text x="175.60" y="707.45" font-family="Liberation Sans" font-size="8.2" font-weight="bold" text-anchor="end" fill="#111" stroke="#111" stroke-width="0.2" textLength="10.26" lengthAdjust="spacingAndGlyphs" >0.0</text>
<line x1="175.90" y1="676.60" x2="180.40" y2="676.60" stroke="#444" stroke-width="1.0" />
<text x="175.60" y="680.05" font-family="Liberation Sans" font-size="8.2" font-weight="bold" text-anchor="end" fill="#111" stroke="#111" stroke-width="0.2" textLength="10.26" lengthAdjust="spacingAndGlyphs" >0.1</text>
<line x1="175.90" y1="649.20" x2="180.40" y2="649.20" stroke="#444" stroke-width="1.0" />
<text x="175.60" y="652.65" font-family="Liberation Sans" font-size="8.2" font-weight="bold" text-anchor="end" fill="#111" stroke="#111" stroke-width="0.2" textLength="10.26" lengthAdjust="spacingAndGlyphs" >0.2</text>
<line x1="175.90" y1="621.80" x2="180.40" y2="621.80" stroke="#444" stroke-width="1.0" />
<text x="175.60" y="625.25" font-family="Liberation Sans" font-size="8.2" font-weight="bold" text-anchor="end" fill="#111" stroke="#111" stroke-width="0.2" textLength="10.26" lengthAdjust="spacingAndGlyphs" >0.3</text>
<line x1="175.90" y1="594.40" x2="180.40" y2="594.40" stroke="#444" stroke-width="1.0" />
<text x="175.60" y="597.85" font-family="Liberation Sans" font-size="8.2" font-weight="bold" text-anchor="end" fill="#111" stroke="#111" stroke-width="0.2" textLength="10.26" lengthAdjust="spacingAndGlyphs" >0.4</text>
<line x1="178.20" y1="690.30" x2="180.40" y2="690.30" stroke="#444" stroke-width="1.0" />
<line x1="178.20" y1="662.90" x2="180.40" y2="662.90" stroke="#444" stroke-width="1.0" />
<line x1="178.20" y1="635.50" x2="180.40" y2="635.50" stroke="#444" stroke-width="1.0" />
<line x1="178.20" y1="608.10" x2="180.40" y2="608.10" stroke="#444" stroke-width="1.0" />
<line x1="175.90" y1="704.00" x2="254.20" y2="704.00" stroke="#444" stroke-width="1.0" />
<line x1="195.50" y1="704.00" x2="195.50" y2="708.20" stroke="#444" stroke-width="1.0" />
<line x1="217.50" y1="704.00" x2="217.50" y2="708.20" stroke="#444" stroke-width="1.0" />
<line x1="239.50" y1="704.00" x2="239.50" y2="708.20" stroke="#444" stroke-width="1.0" />
<text x="195.45" y="716.10" font-family="Liberation Sans" font-size="8.35" font-weight="bold" text-anchor="middle" fill="#111" stroke="#111" stroke-width="0.25" textLength="10.7" lengthAdjust="spacingAndGlyphs" >HF</text>
<text x="217.50" y="716.10" font-family="Liberation Sans" font-size="8.35" font-weight="bold" text-anchor="middle" fill="#111" stroke="#111" stroke-width="0.25" textLength="16.0" lengthAdjust="spacingAndGlyphs" >HFR</text>
<text x="239.65" y="716.10" font-family="Liberation Sans" font-size="8.35" font-weight="bold" text-anchor="middle" fill="#111" stroke="#111" stroke-width="0.25" textLength="20.9" lengthAdjust="spacingAndGlyphs" >HFRV</text>
<text x="195.00" y="745.25" font-family="Liberation Sans" font-size="18.7" font-weight="normal" text-anchor="start" fill="#000" >P</text>
<text transform="translate(23.89,61.28) rotate(-90)" x="0" y="2.50" font-family="Liberation Serif" font-size="11.37" font-weight="bold" text-anchor="middle" fill="#1e1e1e" stroke="#1e1e1e" stroke-width="0.22" textLength="66.47" lengthAdjust="spacingAndGlyphs">Body weight (g)</text>
<text transform="translate(286.11,72.03) rotate(-90)" x="0" y="2.29" font-family="Liberation Serif" font-size="10.43" font-weight="bold" text-anchor="middle" fill="#1e1e1e" stroke="#1e1e1e" stroke-width="0.22" textLength="61.23" lengthAdjust="spacingAndGlyphs">Total mass (g)</text>
<text transform="translate(429.40,65.40) rotate(-90)" x="0" y="2.51" font-family="Liberation Serif" font-size="11.41" font-weight="bold" text-anchor="middle" fill="#1e1e1e" stroke="#1e1e1e" stroke-width="0.22" textLength="65.11" lengthAdjust="spacingAndGlyphs">Lean mass (g)</text>
<text transform="translate(576.28,58.40) rotate(-90)" x="0" y="2.09" font-family="Liberation Serif" font-size="9.50" font-weight="bold" text-anchor="middle" fill="#1e1e1e" stroke="#1e1e1e" stroke-width="0.22" textLength="91.03" lengthAdjust="spacingAndGlyphs">Lean mass ratio (%)</text>
<text transform="translate(7.48,269.58) rotate(-90)" x="0" y="2.41" font-family="Liberation Serif" font-size="10.97" font-weight="bold" text-anchor="middle" fill="#1e1e1e" stroke="#1e1e1e" stroke-width="0.22" textLength="55.66" lengthAdjust="spacingAndGlyphs">Fat mass (g)</text>
<text transform="translate(147.34,266.28) rotate(-90)" x="0" y="2.35" font-family="Liberation Serif" font-size="10.69" font-weight="bold" text-anchor="middle" fill="#1e1e1e" stroke="#1e1e1e" stroke-width="0.22" textLength="88.83" lengthAdjust="spacingAndGlyphs">Fat mass ratio (%)</text>
<text transform="translate(292.59,265.65) rotate(-90)" x="0" y="2.40" font-family="Liberation Serif" font-size="10.92" font-weight="bold" text-anchor="middle" fill="#1e1e1e" stroke="#1e1e1e" stroke-width="0.22" textLength="95.36" lengthAdjust="spacingAndGlyphs">Fat mass in tissue(g)</text>
<text transform="translate(422.41,266.93) rotate(-90)" x="0" y="2.43" font-family="Liberation Serif" font-size="11.06" font-weight="bold" text-anchor="middle" fill="#1e1e1e" stroke="#1e1e1e" stroke-width="0.22" textLength="90.58" lengthAdjust="spacingAndGlyphs">Rota-rod test (sec)</text>
<text transform="translate(571.15,269.06) rotate(-90)" x="0" y="2.36" font-family="Liberation Serif" font-size="10.73" font-weight="bold" text-anchor="middle" fill="#1e1e1e" stroke="#1e1e1e" stroke-width="0.22" textLength="101.22" lengthAdjust="spacingAndGlyphs">Grip strength test (sec)</text>
<text transform="translate(6.44,465.73) rotate(-90)" x="0" y="2.09" font-family="Liberation Serif" font-size="9.50" font-weight="bold" text-anchor="middle" fill="#1e1e1e" stroke="#1e1e1e" stroke-width="0.22" textLength="84.62" lengthAdjust="spacingAndGlyphs">Treadmill test (sec)</text>
<text transform="translate(154.25,471.43) rotate(-90)" x="0" y="2.09" font-family="Liberation Serif" font-size="9.50" font-weight="bold" text-anchor="middle" fill="#1e1e1e" stroke="#1e1e1e" stroke-width="0.22" textLength="99.52" lengthAdjust="spacingAndGlyphs">Voluntary wheel (m/day)</text>
<text transform="translate(281.20,464.40) rotate(-90)" x="0" y="2.33" font-family="Liberation Serif" font-size="10.60" font-weight="bold" text-anchor="middle" fill="#1e1e1e" stroke="#1e1e1e" stroke-width="0.22" textLength="124.00" lengthAdjust="spacingAndGlyphs">Cross sectional area (μm<tspan dy="-4.2" font-size="6.8">2</tspan><tspan dy="4.2">)</tspan></text>
<text transform="translate(437.29,464.31) rotate(-90)" x="0" y="2.44" font-family="Liberation Serif" font-size="11.07" font-weight="bold" text-anchor="middle" fill="#1e1e1e" stroke="#1e1e1e" stroke-width="0.22" textLength="95.97" lengthAdjust="spacingAndGlyphs">Collagen percentage</text>
<text transform="translate(450.97,464.69) rotate(-90)" x="0" y="2.64" font-family="Liberation Serif" font-size="12.00" font-weight="bold" text-anchor="middle" fill="#1e1e1e" stroke="#1e1e1e" stroke-width="0.22" textLength="119.79" lengthAdjust="spacingAndGlyphs">(Positive area/Total area )</text>
<text transform="translate(574.38,468.43) rotate(-90)" x="0" y="2.09" font-family="Liberation Serif" font-size="9.50" font-weight="bold" text-anchor="middle" fill="#1e1e1e" stroke="#1e1e1e" stroke-width="0.22" textLength="74.49" lengthAdjust="spacingAndGlyphs">4-HNE/GAPDH</text>
<text transform="translate(584.32,467.46) rotate(-90)" x="0" y="2.09" font-family="Liberation Serif" font-size="9.50" font-weight="bold" text-anchor="middle" fill="#1e1e1e" stroke="#1e1e1e" stroke-width="0.22" textLength="90.00" lengthAdjust="spacingAndGlyphs">Arbitiray Unite(AU)</text>
<text transform="translate(5.38,646.46) rotate(-90)" x="0" y="2.28" font-family="Liberation Serif" font-size="10.35" font-weight="bold" text-anchor="middle" fill="#1e1e1e" stroke="#1e1e1e" stroke-width="0.22" textLength="61.57" lengthAdjust="spacingAndGlyphs">MDA/GAPDH</text>
<text transform="translate(16.38,646.28) rotate(-90)" x="0" y="2.09" font-family="Liberation Serif" font-size="9.50" font-weight="bold" text-anchor="middle" fill="#1e1e1e" stroke="#1e1e1e" stroke-width="0.22" textLength="85.30" lengthAdjust="spacingAndGlyphs">Arbitiray Unite(AU)</text>
<text transform="translate(148.43,646.59) rotate(-90)" x="0" y="2.09" font-family="Liberation Serif" font-size="9.50" font-weight="bold" text-anchor="middle" fill="#1e1e1e" stroke="#1e1e1e" stroke-width="0.22" textLength="70.29" lengthAdjust="spacingAndGlyphs">Iron percentage</text>
<text transform="translate(160.62,643.59) rotate(-90)" x="0" y="2.39" font-family="Liberation Serif" font-size="10.88" font-weight="bold" text-anchor="middle" fill="#1e1e1e" stroke="#1e1e1e" stroke-width="0.22" textLength="108.28" lengthAdjust="spacingAndGlyphs">(Positive area/Total area)</text>
</svg>
</body></html>
